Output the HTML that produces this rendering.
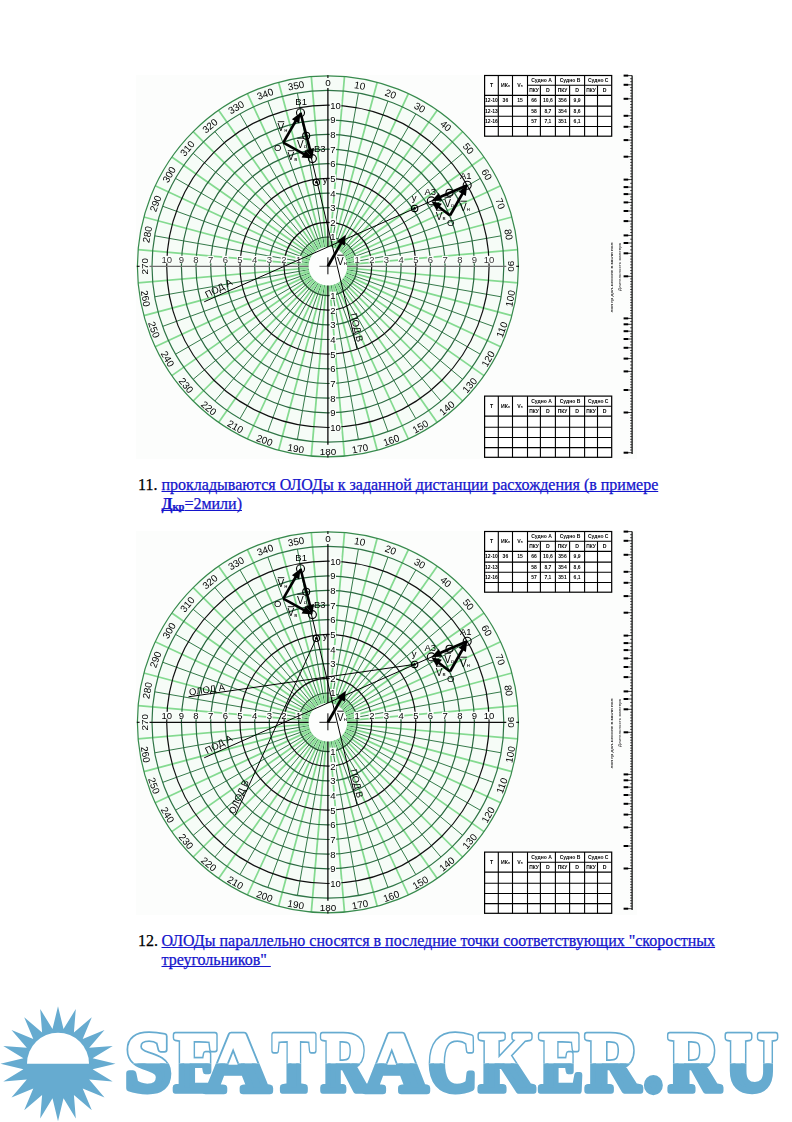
<!DOCTYPE html>
<html><head><meta charset="utf-8"><style>
html,body{margin:0;padding:0;background:#fff;}
body{width:792px;height:1122px;position:relative;overflow:hidden;}
svg{position:absolute;left:0;top:0;}
.ax{font-family:"Liberation Sans",sans-serif;font-size:9.5px;}
.dg{font-family:"Liberation Sans",sans-serif;font-size:9.9px;}
.vl{font-family:"Liberation Sans",sans-serif;font-size:9.5px;}
.tb{font-family:"Liberation Sans",sans-serif;font-weight:bold;}
.p{position:absolute;left:138px;font-family:"Liberation Serif",serif;font-size:16px;line-height:19px;margin:0;color:#000;white-space:nowrap;-webkit-text-stroke:0.25px currentColor;}
.p .n{display:inline-block;width:23.5px;}
.p a{color:#1414cc;text-decoration:underline;text-decoration-skip-ink:none;}
.p .l2{padding-left:23.5px;}
</style></head><body>
<svg width="792" height="1122" viewBox="0 0 792 1122">
<defs><filter id="soft" x="0" y="0" width="1" height="1"><feGaussianBlur stdDeviation="0.28"/></filter></defs>
<g filter="url(#soft)"><rect x="136" y="75" width="501" height="384" fill="#fcfdfc"/>
<circle cx="327.9" cy="266.3" r="190.5" fill="#f6fcf7"/>
<line x1="329.6" y1="247.2" x2="344.5" y2="76.5" stroke="#84da90" stroke-width="1.75"/>
<line x1="331.2" y1="247.4" x2="358.4" y2="93.1" stroke="#357a4a" stroke-width="1.0"/>
<line x1="332.9" y1="247.8" x2="377.2" y2="82.3" stroke="#84da90" stroke-width="1.75"/>
<line x1="334.5" y1="248.3" x2="388.0" y2="101.0" stroke="#357a4a" stroke-width="1.0"/>
<line x1="336.0" y1="248.9" x2="408.4" y2="93.6" stroke="#84da90" stroke-width="1.75"/>
<line x1="337.5" y1="249.7" x2="415.8" y2="114.0" stroke="#357a4a" stroke-width="1.0"/>
<line x1="338.9" y1="250.6" x2="437.2" y2="110.2" stroke="#84da90" stroke-width="1.75"/>
<line x1="340.2" y1="251.6" x2="440.9" y2="131.6" stroke="#357a4a" stroke-width="1.0"/>
<line x1="341.5" y1="252.7" x2="462.6" y2="131.6" stroke="#84da90" stroke-width="1.75"/>
<line x1="342.6" y1="254.0" x2="462.6" y2="153.3" stroke="#357a4a" stroke-width="1.0"/>
<line x1="343.6" y1="255.3" x2="484.0" y2="157.0" stroke="#84da90" stroke-width="1.75"/>
<line x1="344.5" y1="256.7" x2="480.2" y2="178.4" stroke="#357a4a" stroke-width="1.0"/>
<line x1="345.3" y1="258.2" x2="500.6" y2="185.8" stroke="#84da90" stroke-width="1.75"/>
<line x1="345.9" y1="259.7" x2="493.2" y2="206.2" stroke="#357a4a" stroke-width="1.0"/>
<line x1="346.4" y1="261.3" x2="511.9" y2="217.0" stroke="#84da90" stroke-width="1.75"/>
<line x1="346.8" y1="263.0" x2="501.1" y2="235.8" stroke="#357a4a" stroke-width="1.0"/>
<line x1="347.0" y1="264.6" x2="517.7" y2="249.7" stroke="#84da90" stroke-width="1.75"/>
<line x1="347.0" y1="268.0" x2="517.7" y2="282.9" stroke="#84da90" stroke-width="1.75"/>
<line x1="346.8" y1="269.6" x2="501.1" y2="296.8" stroke="#357a4a" stroke-width="1.0"/>
<line x1="346.4" y1="271.3" x2="511.9" y2="315.6" stroke="#84da90" stroke-width="1.75"/>
<line x1="345.9" y1="272.9" x2="493.2" y2="326.4" stroke="#357a4a" stroke-width="1.0"/>
<line x1="345.3" y1="274.4" x2="500.6" y2="346.8" stroke="#84da90" stroke-width="1.75"/>
<line x1="344.5" y1="275.9" x2="480.2" y2="354.2" stroke="#357a4a" stroke-width="1.0"/>
<line x1="343.6" y1="277.3" x2="484.0" y2="375.6" stroke="#84da90" stroke-width="1.75"/>
<line x1="342.6" y1="278.6" x2="462.6" y2="379.3" stroke="#357a4a" stroke-width="1.0"/>
<line x1="341.5" y1="279.9" x2="462.6" y2="401.0" stroke="#84da90" stroke-width="1.75"/>
<line x1="340.2" y1="281.0" x2="440.9" y2="401.0" stroke="#357a4a" stroke-width="1.0"/>
<line x1="338.9" y1="282.0" x2="437.2" y2="422.4" stroke="#84da90" stroke-width="1.75"/>
<line x1="337.5" y1="282.9" x2="415.8" y2="418.6" stroke="#357a4a" stroke-width="1.0"/>
<line x1="336.0" y1="283.7" x2="408.4" y2="439.0" stroke="#84da90" stroke-width="1.75"/>
<line x1="334.5" y1="284.3" x2="388.0" y2="431.6" stroke="#357a4a" stroke-width="1.0"/>
<line x1="332.9" y1="284.8" x2="377.2" y2="450.3" stroke="#84da90" stroke-width="1.75"/>
<line x1="331.2" y1="285.2" x2="358.4" y2="439.5" stroke="#357a4a" stroke-width="1.0"/>
<line x1="329.6" y1="285.4" x2="344.5" y2="456.1" stroke="#84da90" stroke-width="1.75"/>
<line x1="326.2" y1="285.4" x2="311.3" y2="456.1" stroke="#84da90" stroke-width="1.75"/>
<line x1="324.6" y1="285.2" x2="297.4" y2="439.5" stroke="#357a4a" stroke-width="1.0"/>
<line x1="322.9" y1="284.8" x2="278.6" y2="450.3" stroke="#84da90" stroke-width="1.75"/>
<line x1="321.3" y1="284.3" x2="267.8" y2="431.6" stroke="#357a4a" stroke-width="1.0"/>
<line x1="319.8" y1="283.7" x2="247.4" y2="439.0" stroke="#84da90" stroke-width="1.75"/>
<line x1="318.3" y1="282.9" x2="240.0" y2="418.6" stroke="#357a4a" stroke-width="1.0"/>
<line x1="316.9" y1="282.0" x2="218.6" y2="422.4" stroke="#84da90" stroke-width="1.75"/>
<line x1="315.6" y1="281.0" x2="214.9" y2="401.0" stroke="#357a4a" stroke-width="1.0"/>
<line x1="314.3" y1="279.9" x2="193.2" y2="401.0" stroke="#84da90" stroke-width="1.75"/>
<line x1="313.2" y1="278.6" x2="193.2" y2="379.3" stroke="#357a4a" stroke-width="1.0"/>
<line x1="312.2" y1="277.3" x2="171.8" y2="375.6" stroke="#84da90" stroke-width="1.75"/>
<line x1="311.3" y1="275.9" x2="175.6" y2="354.2" stroke="#357a4a" stroke-width="1.0"/>
<line x1="310.5" y1="274.4" x2="155.2" y2="346.8" stroke="#84da90" stroke-width="1.75"/>
<line x1="309.9" y1="272.9" x2="162.6" y2="326.4" stroke="#357a4a" stroke-width="1.0"/>
<line x1="309.4" y1="271.3" x2="143.9" y2="315.6" stroke="#84da90" stroke-width="1.75"/>
<line x1="309.0" y1="269.6" x2="154.7" y2="296.8" stroke="#357a4a" stroke-width="1.0"/>
<line x1="308.8" y1="268.0" x2="138.1" y2="282.9" stroke="#84da90" stroke-width="1.75"/>
<line x1="308.8" y1="264.6" x2="138.1" y2="249.7" stroke="#84da90" stroke-width="1.75"/>
<line x1="309.0" y1="263.0" x2="154.7" y2="235.8" stroke="#357a4a" stroke-width="1.0"/>
<line x1="309.4" y1="261.3" x2="143.9" y2="217.0" stroke="#84da90" stroke-width="1.75"/>
<line x1="309.9" y1="259.7" x2="162.6" y2="206.2" stroke="#357a4a" stroke-width="1.0"/>
<line x1="310.5" y1="258.2" x2="155.2" y2="185.8" stroke="#84da90" stroke-width="1.75"/>
<line x1="311.3" y1="256.7" x2="175.6" y2="178.4" stroke="#357a4a" stroke-width="1.0"/>
<line x1="312.2" y1="255.3" x2="171.8" y2="157.0" stroke="#84da90" stroke-width="1.75"/>
<line x1="313.2" y1="254.0" x2="193.2" y2="153.3" stroke="#357a4a" stroke-width="1.0"/>
<line x1="314.3" y1="252.7" x2="193.2" y2="131.6" stroke="#84da90" stroke-width="1.75"/>
<line x1="315.6" y1="251.6" x2="214.9" y2="131.6" stroke="#357a4a" stroke-width="1.0"/>
<line x1="316.9" y1="250.6" x2="218.6" y2="110.2" stroke="#84da90" stroke-width="1.75"/>
<line x1="318.3" y1="249.7" x2="240.0" y2="114.0" stroke="#357a4a" stroke-width="1.0"/>
<line x1="319.8" y1="248.9" x2="247.4" y2="93.6" stroke="#84da90" stroke-width="1.75"/>
<line x1="321.3" y1="248.3" x2="267.8" y2="101.0" stroke="#357a4a" stroke-width="1.0"/>
<line x1="322.9" y1="247.8" x2="278.6" y2="82.3" stroke="#84da90" stroke-width="1.75"/>
<line x1="324.6" y1="247.4" x2="297.4" y2="93.1" stroke="#357a4a" stroke-width="1.0"/>
<line x1="326.2" y1="247.2" x2="311.3" y2="76.5" stroke="#84da90" stroke-width="1.75"/>
<line x1="328.7" y1="247.1" x2="329.2" y2="237.1" stroke="#8ee09a" stroke-width="0.9"/>
<line x1="330.4" y1="247.3" x2="331.7" y2="237.3" stroke="#8ee09a" stroke-width="0.9"/>
<line x1="332.1" y1="247.6" x2="334.2" y2="237.7" stroke="#8ee09a" stroke-width="0.9"/>
<line x1="333.7" y1="248.0" x2="336.7" y2="238.4" stroke="#8ee09a" stroke-width="0.9"/>
<line x1="335.2" y1="248.6" x2="339.1" y2="239.3" stroke="#8ee09a" stroke-width="0.9"/>
<line x1="336.8" y1="249.3" x2="341.4" y2="240.3" stroke="#8ee09a" stroke-width="0.9"/>
<line x1="338.2" y1="250.1" x2="343.6" y2="241.6" stroke="#8ee09a" stroke-width="0.9"/>
<line x1="339.6" y1="251.1" x2="345.7" y2="243.1" stroke="#8ee09a" stroke-width="0.9"/>
<line x1="340.9" y1="252.1" x2="347.7" y2="244.7" stroke="#8ee09a" stroke-width="0.9"/>
<line x1="342.1" y1="253.3" x2="349.5" y2="246.5" stroke="#8ee09a" stroke-width="0.9"/>
<line x1="343.1" y1="254.6" x2="351.1" y2="248.5" stroke="#8ee09a" stroke-width="0.9"/>
<line x1="344.1" y1="256.0" x2="352.6" y2="250.6" stroke="#8ee09a" stroke-width="0.9"/>
<line x1="344.9" y1="257.4" x2="353.9" y2="252.8" stroke="#8ee09a" stroke-width="0.9"/>
<line x1="345.6" y1="259.0" x2="354.9" y2="255.1" stroke="#8ee09a" stroke-width="0.9"/>
<line x1="346.2" y1="260.5" x2="355.8" y2="257.5" stroke="#8ee09a" stroke-width="0.9"/>
<line x1="346.6" y1="262.1" x2="356.5" y2="260.0" stroke="#8ee09a" stroke-width="0.9"/>
<line x1="346.9" y1="263.8" x2="356.9" y2="262.5" stroke="#8ee09a" stroke-width="0.9"/>
<line x1="347.1" y1="265.5" x2="357.1" y2="265.0" stroke="#8ee09a" stroke-width="0.9"/>
<line x1="347.1" y1="267.1" x2="357.1" y2="267.6" stroke="#8ee09a" stroke-width="0.9"/>
<line x1="346.9" y1="268.8" x2="356.9" y2="270.1" stroke="#8ee09a" stroke-width="0.9"/>
<line x1="346.6" y1="270.5" x2="356.5" y2="272.6" stroke="#8ee09a" stroke-width="0.9"/>
<line x1="346.2" y1="272.1" x2="355.8" y2="275.1" stroke="#8ee09a" stroke-width="0.9"/>
<line x1="345.6" y1="273.6" x2="354.9" y2="277.5" stroke="#8ee09a" stroke-width="0.9"/>
<line x1="344.9" y1="275.2" x2="353.9" y2="279.8" stroke="#8ee09a" stroke-width="0.9"/>
<line x1="344.1" y1="276.6" x2="352.6" y2="282.0" stroke="#8ee09a" stroke-width="0.9"/>
<line x1="343.1" y1="278.0" x2="351.1" y2="284.1" stroke="#8ee09a" stroke-width="0.9"/>
<line x1="342.1" y1="279.3" x2="349.5" y2="286.1" stroke="#8ee09a" stroke-width="0.9"/>
<line x1="340.9" y1="280.5" x2="347.7" y2="287.9" stroke="#8ee09a" stroke-width="0.9"/>
<line x1="339.6" y1="281.5" x2="345.7" y2="289.5" stroke="#8ee09a" stroke-width="0.9"/>
<line x1="338.2" y1="282.5" x2="343.6" y2="291.0" stroke="#8ee09a" stroke-width="0.9"/>
<line x1="336.8" y1="283.3" x2="341.4" y2="292.3" stroke="#8ee09a" stroke-width="0.9"/>
<line x1="335.2" y1="284.0" x2="339.1" y2="293.3" stroke="#8ee09a" stroke-width="0.9"/>
<line x1="333.7" y1="284.6" x2="336.7" y2="294.2" stroke="#8ee09a" stroke-width="0.9"/>
<line x1="332.1" y1="285.0" x2="334.2" y2="294.9" stroke="#8ee09a" stroke-width="0.9"/>
<line x1="330.4" y1="285.3" x2="331.7" y2="295.3" stroke="#8ee09a" stroke-width="0.9"/>
<line x1="328.7" y1="285.5" x2="329.2" y2="295.5" stroke="#8ee09a" stroke-width="0.9"/>
<line x1="327.1" y1="285.5" x2="326.6" y2="295.5" stroke="#8ee09a" stroke-width="0.9"/>
<line x1="325.4" y1="285.3" x2="324.1" y2="295.3" stroke="#8ee09a" stroke-width="0.9"/>
<line x1="323.7" y1="285.0" x2="321.6" y2="294.9" stroke="#8ee09a" stroke-width="0.9"/>
<line x1="322.1" y1="284.6" x2="319.1" y2="294.2" stroke="#8ee09a" stroke-width="0.9"/>
<line x1="320.6" y1="284.0" x2="316.7" y2="293.3" stroke="#8ee09a" stroke-width="0.9"/>
<line x1="319.0" y1="283.3" x2="314.4" y2="292.3" stroke="#8ee09a" stroke-width="0.9"/>
<line x1="317.6" y1="282.5" x2="312.2" y2="291.0" stroke="#8ee09a" stroke-width="0.9"/>
<line x1="316.2" y1="281.5" x2="310.1" y2="289.5" stroke="#8ee09a" stroke-width="0.9"/>
<line x1="314.9" y1="280.5" x2="308.1" y2="287.9" stroke="#8ee09a" stroke-width="0.9"/>
<line x1="313.7" y1="279.3" x2="306.3" y2="286.1" stroke="#8ee09a" stroke-width="0.9"/>
<line x1="312.7" y1="278.0" x2="304.7" y2="284.1" stroke="#8ee09a" stroke-width="0.9"/>
<line x1="311.7" y1="276.6" x2="303.2" y2="282.0" stroke="#8ee09a" stroke-width="0.9"/>
<line x1="310.9" y1="275.2" x2="301.9" y2="279.8" stroke="#8ee09a" stroke-width="0.9"/>
<line x1="310.2" y1="273.6" x2="300.9" y2="277.5" stroke="#8ee09a" stroke-width="0.9"/>
<line x1="309.6" y1="272.1" x2="300.0" y2="275.1" stroke="#8ee09a" stroke-width="0.9"/>
<line x1="309.2" y1="270.5" x2="299.3" y2="272.6" stroke="#8ee09a" stroke-width="0.9"/>
<line x1="308.9" y1="268.8" x2="298.9" y2="270.1" stroke="#8ee09a" stroke-width="0.9"/>
<line x1="308.7" y1="267.1" x2="298.7" y2="267.6" stroke="#8ee09a" stroke-width="0.9"/>
<line x1="308.7" y1="265.5" x2="298.7" y2="265.0" stroke="#8ee09a" stroke-width="0.9"/>
<line x1="308.9" y1="263.8" x2="298.9" y2="262.5" stroke="#8ee09a" stroke-width="0.9"/>
<line x1="309.2" y1="262.1" x2="299.3" y2="260.0" stroke="#8ee09a" stroke-width="0.9"/>
<line x1="309.6" y1="260.5" x2="300.0" y2="257.5" stroke="#8ee09a" stroke-width="0.9"/>
<line x1="310.2" y1="259.0" x2="300.9" y2="255.1" stroke="#8ee09a" stroke-width="0.9"/>
<line x1="310.9" y1="257.4" x2="301.9" y2="252.8" stroke="#8ee09a" stroke-width="0.9"/>
<line x1="311.7" y1="256.0" x2="303.2" y2="250.6" stroke="#8ee09a" stroke-width="0.9"/>
<line x1="312.7" y1="254.6" x2="304.7" y2="248.5" stroke="#8ee09a" stroke-width="0.9"/>
<line x1="313.7" y1="253.3" x2="306.3" y2="246.5" stroke="#8ee09a" stroke-width="0.9"/>
<line x1="314.9" y1="252.1" x2="308.1" y2="244.7" stroke="#8ee09a" stroke-width="0.9"/>
<line x1="316.2" y1="251.1" x2="310.1" y2="243.1" stroke="#8ee09a" stroke-width="0.9"/>
<line x1="317.6" y1="250.1" x2="312.2" y2="241.6" stroke="#8ee09a" stroke-width="0.9"/>
<line x1="319.0" y1="249.3" x2="314.4" y2="240.3" stroke="#8ee09a" stroke-width="0.9"/>
<line x1="320.6" y1="248.6" x2="316.7" y2="239.3" stroke="#8ee09a" stroke-width="0.9"/>
<line x1="322.1" y1="248.0" x2="319.1" y2="238.4" stroke="#8ee09a" stroke-width="0.9"/>
<line x1="323.7" y1="247.6" x2="321.6" y2="237.7" stroke="#8ee09a" stroke-width="0.9"/>
<line x1="325.4" y1="247.3" x2="324.1" y2="237.3" stroke="#8ee09a" stroke-width="0.9"/>
<line x1="327.1" y1="247.1" x2="326.6" y2="237.1" stroke="#8ee09a" stroke-width="0.9"/>
<circle cx="327.9" cy="266.3" r="29.3" fill="none" stroke="#244f30" stroke-width="1.2"/>
<circle cx="327.9" cy="266.3" r="43.9" fill="none" stroke="#111" stroke-width="1.2"/>
<circle cx="327.9" cy="266.3" r="58.6" fill="none" stroke="#29673f" stroke-width="1.2"/>
<circle cx="327.9" cy="266.3" r="73.2" fill="none" stroke="#29673f" stroke-width="1.2"/>
<circle cx="327.9" cy="266.3" r="87.9" fill="none" stroke="#111" stroke-width="1.2"/>
<circle cx="327.9" cy="266.3" r="102.6" fill="none" stroke="#29673f" stroke-width="1.2"/>
<circle cx="327.9" cy="266.3" r="117.2" fill="none" stroke="#29673f" stroke-width="1.2"/>
<circle cx="327.9" cy="266.3" r="131.9" fill="none" stroke="#29673f" stroke-width="1.2"/>
<circle cx="327.9" cy="266.3" r="146.5" fill="none" stroke="#29673f" stroke-width="1.2"/>
<circle cx="327.9" cy="266.3" r="161.2" fill="none" stroke="#111" stroke-width="1.2"/>
<circle cx="327.9" cy="266.3" r="175.9" fill="none" stroke="#2f7546" stroke-width="1.2"/>
<circle cx="327.9" cy="266.3" r="190.5" fill="none" stroke="#378a4d" stroke-width="1.2"/>
<line x1="327.9" y1="87.9" x2="327.9" y2="444.7" stroke="#000" stroke-width="1.25"/>
<line x1="149.5" y1="266.3" x2="506.3" y2="266.3" stroke="#6e6e6e" stroke-width="1.25"/>
<line x1="327.9" y1="78.0" x2="327.9" y2="75.2" stroke="#000" stroke-width="1.1"/>
<line x1="327.9" y1="454.6" x2="327.9" y2="457.4" stroke="#000" stroke-width="1.1"/>
<line x1="139.6" y1="266.3" x2="136.8" y2="266.3" stroke="#000" stroke-width="1.1"/>
<line x1="516.2" y1="266.3" x2="519.0" y2="266.3" stroke="#000" stroke-width="1.1"/>
<circle cx="327.9" cy="266.3" r="19.2" fill="#fdfefd"/>
<line x1="319.4" y1="266.3" x2="336.4" y2="266.3" stroke="#6e6e6e" stroke-width="1"/>
<line x1="327.9" y1="257.3" x2="327.9" y2="274.3" stroke="#000" stroke-width="1"/>
<rect x="329.7" y="233.0" width="6.3" height="8" fill="#fbfefb"/>
<text x="330.2" y="240.4" class="ax">1</text>
<rect x="329.7" y="291.6" width="6.3" height="8" fill="#fbfefb"/>
<text x="330.2" y="299.0" class="ax">1</text>
<rect x="295.5" y="255.8" width="6.3" height="7.5" fill="#fbfefb"/>
<text x="298.6" y="263.3" class="ax" text-anchor="middle" fill="#333">1</text>
<rect x="354.0" y="255.8" width="6.3" height="7.5" fill="#fbfefb"/>
<text x="357.2" y="263.3" class="ax" text-anchor="middle" fill="#333">1</text>
<rect x="329.7" y="218.4" width="6.3" height="8" fill="#fbfefb"/>
<text x="330.2" y="225.8" class="ax">2</text>
<rect x="329.7" y="306.2" width="6.3" height="8" fill="#fbfefb"/>
<text x="330.2" y="313.6" class="ax">2</text>
<rect x="280.8" y="255.8" width="6.3" height="7.5" fill="#fbfefb"/>
<text x="284.0" y="263.3" class="ax" text-anchor="middle" fill="#333">2</text>
<rect x="368.7" y="255.8" width="6.3" height="7.5" fill="#fbfefb"/>
<text x="371.8" y="263.3" class="ax" text-anchor="middle" fill="#333">2</text>
<rect x="329.7" y="203.7" width="6.3" height="8" fill="#fbfefb"/>
<text x="330.2" y="211.1" class="ax">3</text>
<rect x="329.7" y="320.9" width="6.3" height="8" fill="#fbfefb"/>
<text x="330.2" y="328.3" class="ax">3</text>
<rect x="266.2" y="255.8" width="6.3" height="7.5" fill="#fbfefb"/>
<text x="269.3" y="263.3" class="ax" text-anchor="middle" fill="#333">3</text>
<rect x="383.3" y="255.8" width="6.3" height="7.5" fill="#fbfefb"/>
<text x="386.5" y="263.3" class="ax" text-anchor="middle" fill="#333">3</text>
<rect x="329.7" y="189.1" width="6.3" height="8" fill="#fbfefb"/>
<text x="330.2" y="196.5" class="ax">4</text>
<rect x="329.7" y="335.5" width="6.3" height="8" fill="#fbfefb"/>
<text x="330.2" y="342.9" class="ax">4</text>
<rect x="251.5" y="255.8" width="6.3" height="7.5" fill="#fbfefb"/>
<text x="254.7" y="263.3" class="ax" text-anchor="middle" fill="#333">4</text>
<rect x="398.0" y="255.8" width="6.3" height="7.5" fill="#fbfefb"/>
<text x="401.1" y="263.3" class="ax" text-anchor="middle" fill="#333">4</text>
<rect x="329.7" y="174.4" width="6.3" height="8" fill="#fbfefb"/>
<text x="330.2" y="181.8" class="ax">5</text>
<rect x="329.7" y="350.2" width="6.3" height="8" fill="#fbfefb"/>
<text x="330.2" y="357.6" class="ax">5</text>
<rect x="236.9" y="255.8" width="6.3" height="7.5" fill="#fbfefb"/>
<text x="240.0" y="263.3" class="ax" text-anchor="middle" fill="#333">5</text>
<rect x="412.7" y="255.8" width="6.3" height="7.5" fill="#fbfefb"/>
<text x="415.8" y="263.3" class="ax" text-anchor="middle" fill="#333">5</text>
<rect x="329.7" y="159.7" width="6.3" height="8" fill="#fbfefb"/>
<text x="330.2" y="167.1" class="ax">6</text>
<rect x="329.7" y="364.9" width="6.3" height="8" fill="#fbfefb"/>
<text x="330.2" y="372.3" class="ax">6</text>
<rect x="222.2" y="255.8" width="6.3" height="7.5" fill="#fbfefb"/>
<text x="225.3" y="263.3" class="ax" text-anchor="middle" fill="#333">6</text>
<rect x="427.3" y="255.8" width="6.3" height="7.5" fill="#fbfefb"/>
<text x="430.5" y="263.3" class="ax" text-anchor="middle" fill="#333">6</text>
<rect x="329.7" y="145.1" width="6.3" height="8" fill="#fbfefb"/>
<text x="330.2" y="152.5" class="ax">7</text>
<rect x="329.7" y="379.5" width="6.3" height="8" fill="#fbfefb"/>
<text x="330.2" y="386.9" class="ax">7</text>
<rect x="207.5" y="255.8" width="6.3" height="7.5" fill="#fbfefb"/>
<text x="210.7" y="263.3" class="ax" text-anchor="middle" fill="#333">7</text>
<rect x="442.0" y="255.8" width="6.3" height="7.5" fill="#fbfefb"/>
<text x="445.1" y="263.3" class="ax" text-anchor="middle" fill="#333">7</text>
<rect x="329.7" y="130.4" width="6.3" height="8" fill="#fbfefb"/>
<text x="330.2" y="137.8" class="ax">8</text>
<rect x="329.7" y="394.2" width="6.3" height="8" fill="#fbfefb"/>
<text x="330.2" y="401.6" class="ax">8</text>
<rect x="192.9" y="255.8" width="6.3" height="7.5" fill="#fbfefb"/>
<text x="196.0" y="263.3" class="ax" text-anchor="middle" fill="#333">8</text>
<rect x="456.6" y="255.8" width="6.3" height="7.5" fill="#fbfefb"/>
<text x="459.8" y="263.3" class="ax" text-anchor="middle" fill="#333">8</text>
<rect x="329.7" y="115.8" width="6.3" height="8" fill="#fbfefb"/>
<text x="330.2" y="123.2" class="ax">9</text>
<rect x="329.7" y="408.8" width="6.3" height="8" fill="#fbfefb"/>
<text x="330.2" y="416.2" class="ax">9</text>
<rect x="178.2" y="255.8" width="6.3" height="7.5" fill="#fbfefb"/>
<text x="181.4" y="263.3" class="ax" text-anchor="middle" fill="#333">9</text>
<rect x="471.3" y="255.8" width="6.3" height="7.5" fill="#fbfefb"/>
<text x="474.4" y="263.3" class="ax" text-anchor="middle" fill="#333">9</text>
<rect x="329.7" y="101.1" width="11.6" height="8" fill="#fbfefb"/>
<text x="330.2" y="108.5" class="ax">10</text>
<rect x="329.7" y="423.5" width="11.6" height="8" fill="#fbfefb"/>
<text x="330.2" y="430.9" class="ax">10</text>
<rect x="160.9" y="255.8" width="11.6" height="7.5" fill="#fbfefb"/>
<text x="166.7" y="263.3" class="ax" text-anchor="middle" fill="#333">10</text>
<rect x="483.3" y="255.8" width="11.6" height="7.5" fill="#fbfefb"/>
<text x="489.1" y="263.3" class="ax" text-anchor="middle" fill="#333">10</text>
<text transform="translate(327.9,82.7) rotate(0)" y="3.6" class="dg" text-anchor="middle">0</text>
<text transform="translate(359.8,85.5) rotate(10)" y="3.6" class="dg" text-anchor="middle">10</text>
<text transform="translate(390.7,93.8) rotate(20)" y="3.6" class="dg" text-anchor="middle">20</text>
<text transform="translate(419.7,107.3) rotate(30)" y="3.6" class="dg" text-anchor="middle">30</text>
<text transform="translate(445.9,125.7) rotate(40)" y="3.6" class="dg" text-anchor="middle">40</text>
<text transform="translate(468.5,148.3) rotate(50)" y="3.6" class="dg" text-anchor="middle">50</text>
<text transform="translate(486.9,174.5) rotate(60)" y="3.6" class="dg" text-anchor="middle">60</text>
<text transform="translate(500.4,203.5) rotate(70)" y="3.6" class="dg" text-anchor="middle">70</text>
<text transform="translate(508.7,234.4) rotate(80)" y="3.6" class="dg" text-anchor="middle">80</text>
<text transform="translate(511.5,266.3) rotate(90)" y="3.6" class="dg" text-anchor="middle">90</text>
<text transform="translate(510.1,298.4) rotate(-80)" y="3.6" class="dg" text-anchor="middle">100</text>
<text transform="translate(501.7,329.6) rotate(-70)" y="3.6" class="dg" text-anchor="middle">110</text>
<text transform="translate(488.1,358.8) rotate(-60)" y="3.6" class="dg" text-anchor="middle">120</text>
<text transform="translate(469.6,385.2) rotate(-50)" y="3.6" class="dg" text-anchor="middle">130</text>
<text transform="translate(446.8,408.0) rotate(-40)" y="3.6" class="dg" text-anchor="middle">140</text>
<text transform="translate(420.4,426.5) rotate(-30)" y="3.6" class="dg" text-anchor="middle">150</text>
<text transform="translate(391.2,440.1) rotate(-20)" y="3.6" class="dg" text-anchor="middle">160</text>
<text transform="translate(360.0,448.5) rotate(-10)" y="3.6" class="dg" text-anchor="middle">170</text>
<text transform="translate(327.9,451.3) rotate(0)" y="3.6" class="dg" text-anchor="middle">180</text>
<text transform="translate(295.8,448.5) rotate(10)" y="3.6" class="dg" text-anchor="middle">190</text>
<text transform="translate(264.6,440.1) rotate(20)" y="3.6" class="dg" text-anchor="middle">200</text>
<text transform="translate(235.4,426.5) rotate(30)" y="3.6" class="dg" text-anchor="middle">210</text>
<text transform="translate(209.0,408.0) rotate(40)" y="3.6" class="dg" text-anchor="middle">220</text>
<text transform="translate(186.2,385.2) rotate(50)" y="3.6" class="dg" text-anchor="middle">230</text>
<text transform="translate(167.7,358.8) rotate(60)" y="3.6" class="dg" text-anchor="middle">240</text>
<text transform="translate(154.1,329.6) rotate(70)" y="3.6" class="dg" text-anchor="middle">250</text>
<text transform="translate(145.7,298.4) rotate(80)" y="3.6" class="dg" text-anchor="middle">260</text>
<text transform="translate(144.3,266.3) rotate(270)" y="3.6" class="dg" text-anchor="middle">270</text>
<text transform="translate(147.1,234.4) rotate(280)" y="3.6" class="dg" text-anchor="middle">280</text>
<text transform="translate(155.4,203.5) rotate(290)" y="3.6" class="dg" text-anchor="middle">290</text>
<text transform="translate(168.9,174.5) rotate(300)" y="3.6" class="dg" text-anchor="middle">300</text>
<text transform="translate(187.3,148.3) rotate(310)" y="3.6" class="dg" text-anchor="middle">310</text>
<text transform="translate(209.9,125.7) rotate(320)" y="3.6" class="dg" text-anchor="middle">320</text>
<text transform="translate(236.1,107.3) rotate(330)" y="3.6" class="dg" text-anchor="middle">330</text>
<text transform="translate(265.1,93.8) rotate(340)" y="3.6" class="dg" text-anchor="middle">340</text>
<text transform="translate(296.0,85.5) rotate(350)" y="3.6" class="dg" text-anchor="middle">350</text>
<line x1="300.5" y1="112.7" x2="357.0" y2="348.8" stroke="#000" stroke-width="1"/>
<line x1="467.2" y1="185.2" x2="204.2" y2="301.8" stroke="#000" stroke-width="1"/>
<circle cx="300.5" cy="112.7" r="4" fill="none" stroke="#000" stroke-width="1.1"/>
<circle cx="306.2" cy="135.7" r="3.5" fill="none" stroke="#000" stroke-width="1.1"/>
<circle cx="312.4" cy="158.6" r="4" fill="none" stroke="#000" stroke-width="1.1"/>
<circle cx="467.2" cy="185.2" r="4" fill="none" stroke="#000" stroke-width="1.1"/>
<circle cx="449.5" cy="192.8" r="3.5" fill="none" stroke="#000" stroke-width="1.1"/>
<circle cx="431.3" cy="200.9" r="4" fill="none" stroke="#000" stroke-width="1.1"/>
<circle cx="414.6" cy="208.4" r="3.2" fill="none" stroke="#000" stroke-width="1.1"/>
<circle cx="316.3" cy="182.3" r="3.2" fill="none" stroke="#000" stroke-width="1.1"/>
<circle cx="414.6" cy="208.4" r="1.3" fill="#000"/>
<circle cx="316.3" cy="182.3" r="1.3" fill="#000"/>
<line x1="283.3" y1="142.7" x2="296.0" y2="120.5" stroke="#000" stroke-width="2.6"/><polygon points="300.5,112.7 299.2,123.5 291.9,119.3" fill="#000"/>
<line x1="300.5" y1="112.7" x2="310.1" y2="149.9" stroke="#000" stroke-width="2.6"/><polygon points="312.4,158.6 305.8,150.0 314.0,147.9" fill="#000"/>
<line x1="283.3" y1="142.7" x2="304.5" y2="154.3" stroke="#000" stroke-width="2.6"/><polygon points="312.4,158.6 301.6,157.5 305.6,150.1" fill="#000"/>
<line x1="450.0" y1="215.5" x2="462.8" y2="193.0" stroke="#000" stroke-width="2.6"/><polygon points="467.2,185.2 465.9,196.0 458.6,191.8" fill="#000"/>
<line x1="467.2" y1="185.2" x2="439.5" y2="197.3" stroke="#000" stroke-width="2.6"/><polygon points="431.3,200.9 438.8,193.0 442.1,200.7" fill="#000"/>
<line x1="450.0" y1="215.5" x2="438.4" y2="206.4" stroke="#000" stroke-width="2.6"/><polygon points="431.3,200.9 441.8,203.7 436.6,210.4" fill="#000"/>
<line x1="327.9" y1="266.3" x2="341.4" y2="242.6" stroke="#000" stroke-width="2.8"/><polygon points="345.8,234.8 344.8,245.7 336.9,241.3" fill="#000"/>
<text x="295.3" y="104.7" class="vl">В1</text>
<text x="274" y="151" class="vl">О</text>
<text x="314" y="152" class="vl">В3</text>
<text x="322.8" y="183.2" class="vl">у</text>
<text x="277.5" y="131.0" class="vl" style="font-size:10.0px">V<tspan style="font-size:5.8px" dy="0.8">н</tspan></text><line x1="277.8" y1="121.7" x2="284.3" y2="121.7" stroke="#000" stroke-width="0.9"/>
<text x="297.0" y="147.5" class="vl" style="font-size:10.0px">V<tspan style="font-size:5.8px" dy="0.8">о</tspan></text><line x1="297.3" y1="138.2" x2="303.8" y2="138.2" stroke="#000" stroke-width="0.9"/>
<text x="287.5" y="160.0" class="vl" style="font-size:10.0px">V<tspan style="font-size:5.8px" dy="0.8">в</tspan></text><line x1="287.8" y1="150.7" x2="294.3" y2="150.7" stroke="#000" stroke-width="0.9"/>
<text x="460" y="179" class="vl">А1</text>
<text x="424.5" y="194.7" class="vl">А3</text>
<text x="411.8" y="201" class="vl">у</text>
<text x="447" y="225.5" class="vl">О</text>
<text x="444.2" y="206.5" class="vl" style="font-size:10.0px">V<tspan style="font-size:5.8px" dy="0.8">о</tspan></text><line x1="444.5" y1="197.2" x2="451.0" y2="197.2" stroke="#000" stroke-width="0.9"/>
<text x="460.0" y="210.5" class="vl" style="font-size:10.0px">V<tspan style="font-size:5.8px" dy="0.8">н</tspan></text><line x1="460.3" y1="201.2" x2="466.8" y2="201.2" stroke="#000" stroke-width="0.9"/>
<text x="435.8" y="219.5" class="vl" style="font-size:10.0px">V<tspan style="font-size:5.8px" dy="0.8">в</tspan></text><line x1="436.1" y1="210.2" x2="442.6" y2="210.2" stroke="#000" stroke-width="0.9"/>
<text x="337.0" y="264.5" class="vl" style="font-size:10.0px">V<tspan style="font-size:5.8px" dy="0.8">н</tspan></text><line x1="337.3" y1="255.2" x2="343.8" y2="255.2" stroke="#000" stroke-width="0.9"/>
<text transform="translate(218.8,288.6) rotate(-28)" y="3" class="vl" text-anchor="middle">ПОД А</text>
<text transform="translate(356.5,327.5) rotate(76.5)" y="3" class="vl" text-anchor="middle">ПОД В</text>
<rect x="484.6" y="75.5" width="127.1" height="60.7" fill="#fff" stroke="#000" stroke-width="1.2"/>
<line x1="498.3" y1="75.5" x2="498.3" y2="136.2" stroke="#000" stroke-width="1.1"/>
<line x1="512.5" y1="75.5" x2="512.5" y2="136.2" stroke="#000" stroke-width="1.1"/>
<line x1="527.5" y1="75.5" x2="527.5" y2="136.2" stroke="#000" stroke-width="1.1"/>
<line x1="540.4" y1="85.3" x2="540.4" y2="136.2" stroke="#000" stroke-width="1.1"/>
<line x1="555.4" y1="75.5" x2="555.4" y2="136.2" stroke="#000" stroke-width="1.1"/>
<line x1="569.6" y1="85.3" x2="569.6" y2="136.2" stroke="#000" stroke-width="1.1"/>
<line x1="584.6" y1="75.5" x2="584.6" y2="136.2" stroke="#000" stroke-width="1.1"/>
<line x1="597.5" y1="85.3" x2="597.5" y2="136.2" stroke="#000" stroke-width="1.1"/>
<line x1="527.5" y1="85.3" x2="611.7" y2="85.3" stroke="#000" stroke-width="1.1"/>
<line x1="484.6" y1="95.4" x2="611.7" y2="95.4" stroke="#000" stroke-width="1.1"/>
<line x1="484.6" y1="106.1" x2="611.7" y2="106.1" stroke="#000" stroke-width="1.1"/>
<line x1="484.6" y1="116.2" x2="611.7" y2="116.2" stroke="#000" stroke-width="1.1"/>
<line x1="484.6" y1="126.5" x2="611.7" y2="126.5" stroke="#000" stroke-width="1.1"/>
<text x="491.5" y="87.0" font-size="5.2" text-anchor="middle" class="tb">Т</text>
<text x="505.4" y="87.0" font-size="5.2" text-anchor="middle" class="tb">ИК<tspan font-size="3">н</tspan></text>
<text x="520.0" y="87.0" font-size="5.2" text-anchor="middle" class="tb">V<tspan font-size="3">н</tspan></text>
<text x="541.5" y="82.0" font-size="5.0" text-anchor="middle" class="tb">Судно А</text>
<text x="570.0" y="82.0" font-size="5.0" text-anchor="middle" class="tb">Судно В</text>
<text x="598.2" y="82.0" font-size="5.0" text-anchor="middle" class="tb">Судно С</text>
<text x="534.0" y="91.9" font-size="4.9" text-anchor="middle" class="tb">ПКУ</text>
<text x="547.9" y="91.9" font-size="5.2" text-anchor="middle" class="tb">D</text>
<text x="562.5" y="91.9" font-size="4.9" text-anchor="middle" class="tb">ПКУ</text>
<text x="577.1" y="91.9" font-size="5.2" text-anchor="middle" class="tb">D</text>
<text x="591.0" y="91.9" font-size="4.9" text-anchor="middle" class="tb">ПКУ</text>
<text x="604.6" y="91.9" font-size="5.2" text-anchor="middle" class="tb">D</text>
<text x="491.5" y="102.3" font-size="5.0" text-anchor="middle" class="tb">12-10</text>
<text x="505.4" y="102.3" font-size="5.0" text-anchor="middle" class="tb">36</text>
<text x="520.0" y="102.3" font-size="5.0" text-anchor="middle" class="tb">15</text>
<text x="534.0" y="102.3" font-size="5.0" text-anchor="middle" class="tb">66</text>
<text x="547.9" y="102.3" font-size="5.0" text-anchor="middle" class="tb">10,6</text>
<text x="562.5" y="102.3" font-size="5.0" text-anchor="middle" class="tb">356</text>
<text x="577.1" y="102.3" font-size="5.0" text-anchor="middle" class="tb">9,9</text>
<text x="491.5" y="112.8" font-size="5.0" text-anchor="middle" class="tb">12-13</text>
<text x="534.0" y="112.8" font-size="5.0" text-anchor="middle" class="tb">58</text>
<text x="547.9" y="112.8" font-size="5.0" text-anchor="middle" class="tb">8,7</text>
<text x="562.5" y="112.8" font-size="5.0" text-anchor="middle" class="tb">354</text>
<text x="577.1" y="112.8" font-size="5.0" text-anchor="middle" class="tb">8,6</text>
<text x="491.5" y="122.9" font-size="5.0" text-anchor="middle" class="tb">12-16</text>
<text x="534.0" y="122.9" font-size="5.0" text-anchor="middle" class="tb">57</text>
<text x="547.9" y="122.9" font-size="5.0" text-anchor="middle" class="tb">7,1</text>
<text x="562.5" y="122.9" font-size="5.0" text-anchor="middle" class="tb">351</text>
<text x="577.1" y="122.9" font-size="5.0" text-anchor="middle" class="tb">6,1</text>
<rect x="484.6" y="396.1" width="127.1" height="61.2" fill="#fff" stroke="#000" stroke-width="1.2"/>
<line x1="498.3" y1="396.1" x2="498.3" y2="457.3" stroke="#000" stroke-width="1.1"/>
<line x1="512.5" y1="396.1" x2="512.5" y2="457.3" stroke="#000" stroke-width="1.1"/>
<line x1="527.5" y1="396.1" x2="527.5" y2="457.3" stroke="#000" stroke-width="1.1"/>
<line x1="540.4" y1="406.2" x2="540.4" y2="457.3" stroke="#000" stroke-width="1.1"/>
<line x1="555.4" y1="396.1" x2="555.4" y2="457.3" stroke="#000" stroke-width="1.1"/>
<line x1="569.6" y1="406.2" x2="569.6" y2="457.3" stroke="#000" stroke-width="1.1"/>
<line x1="584.6" y1="396.1" x2="584.6" y2="457.3" stroke="#000" stroke-width="1.1"/>
<line x1="597.5" y1="406.2" x2="597.5" y2="457.3" stroke="#000" stroke-width="1.1"/>
<line x1="527.5" y1="406.2" x2="611.7" y2="406.2" stroke="#000" stroke-width="1.1"/>
<line x1="484.6" y1="416.1" x2="611.7" y2="416.1" stroke="#000" stroke-width="1.1"/>
<line x1="484.6" y1="427.2" x2="611.7" y2="427.2" stroke="#000" stroke-width="1.1"/>
<line x1="484.6" y1="437.5" x2="611.7" y2="437.5" stroke="#000" stroke-width="1.1"/>
<line x1="484.6" y1="447.6" x2="611.7" y2="447.6" stroke="#000" stroke-width="1.1"/>
<text x="491.5" y="407.7" font-size="5.2" text-anchor="middle" class="tb">Т</text>
<text x="505.4" y="407.7" font-size="5.2" text-anchor="middle" class="tb">ИК<tspan font-size="3">н</tspan></text>
<text x="520.0" y="407.7" font-size="5.2" text-anchor="middle" class="tb">V<tspan font-size="3">н</tspan></text>
<text x="541.5" y="402.8" font-size="5.0" text-anchor="middle" class="tb">Судно А</text>
<text x="570.0" y="402.8" font-size="5.0" text-anchor="middle" class="tb">Судно В</text>
<text x="598.2" y="402.8" font-size="5.0" text-anchor="middle" class="tb">Судно С</text>
<text x="534.0" y="412.8" font-size="4.9" text-anchor="middle" class="tb">ПКУ</text>
<text x="547.9" y="412.8" font-size="5.2" text-anchor="middle" class="tb">D</text>
<text x="562.5" y="412.8" font-size="4.9" text-anchor="middle" class="tb">ПКУ</text>
<text x="577.1" y="412.8" font-size="5.2" text-anchor="middle" class="tb">D</text>
<text x="591.0" y="412.8" font-size="4.9" text-anchor="middle" class="tb">ПКУ</text>
<text x="604.6" y="412.8" font-size="5.2" text-anchor="middle" class="tb">D</text>
<line x1="632.1" y1="75.5" x2="632.1" y2="454.0" stroke="#000" stroke-width="1.2"/>
<rect x="623.6" y="74.6" width="4.6" height="2" fill="#000"/>
<line x1="628" y1="75.6" x2="632.1" y2="75.6" stroke="#000" stroke-width="0.8"/>
<rect x="623.6" y="83.8" width="4.6" height="2" fill="#000"/>
<line x1="628" y1="84.8" x2="632.1" y2="84.8" stroke="#000" stroke-width="0.8"/>
<rect x="623.6" y="97.8" width="4.6" height="2" fill="#000"/>
<line x1="628" y1="98.8" x2="632.1" y2="98.8" stroke="#000" stroke-width="0.8"/>
<rect x="623.6" y="114.8" width="4.6" height="2" fill="#000"/>
<line x1="628" y1="115.8" x2="632.1" y2="115.8" stroke="#000" stroke-width="0.8"/>
<rect x="623.6" y="125.8" width="4.6" height="2" fill="#000"/>
<line x1="628" y1="126.8" x2="632.1" y2="126.8" stroke="#000" stroke-width="0.8"/>
<rect x="623.6" y="139.1" width="4.6" height="2" fill="#000"/>
<line x1="628" y1="140.1" x2="632.1" y2="140.1" stroke="#000" stroke-width="0.8"/>
<rect x="623.6" y="155.7" width="4.6" height="2" fill="#000"/>
<line x1="628" y1="156.7" x2="632.1" y2="156.7" stroke="#000" stroke-width="0.8"/>
<rect x="623.6" y="178.6" width="4.6" height="2" fill="#000"/>
<line x1="628" y1="179.6" x2="632.1" y2="179.6" stroke="#000" stroke-width="0.8"/>
<rect x="623.6" y="186.1" width="4.6" height="2" fill="#000"/>
<line x1="628" y1="187.1" x2="632.1" y2="187.1" stroke="#000" stroke-width="0.8"/>
<rect x="623.6" y="193.1" width="4.6" height="2" fill="#000"/>
<line x1="628" y1="194.1" x2="632.1" y2="194.1" stroke="#000" stroke-width="0.8"/>
<rect x="623.6" y="201.4" width="4.6" height="2" fill="#000"/>
<line x1="628" y1="202.4" x2="632.1" y2="202.4" stroke="#000" stroke-width="0.8"/>
<rect x="623.6" y="210.0" width="4.6" height="2" fill="#000"/>
<line x1="628" y1="211.0" x2="632.1" y2="211.0" stroke="#000" stroke-width="0.8"/>
<rect x="623.6" y="220.1" width="4.6" height="2" fill="#000"/>
<line x1="628" y1="221.1" x2="632.1" y2="221.1" stroke="#000" stroke-width="0.8"/>
<rect x="623.6" y="234.4" width="4.6" height="2" fill="#000"/>
<line x1="628" y1="235.4" x2="632.1" y2="235.4" stroke="#000" stroke-width="0.8"/>
<rect x="623.6" y="242.0" width="4.6" height="2" fill="#000"/>
<line x1="628" y1="243.0" x2="632.1" y2="243.0" stroke="#000" stroke-width="0.8"/>
<rect x="623.6" y="252.3" width="4.6" height="2" fill="#000"/>
<line x1="628" y1="253.3" x2="632.1" y2="253.3" stroke="#000" stroke-width="0.8"/>
<rect x="623.6" y="275.3" width="4.6" height="2" fill="#000"/>
<line x1="628" y1="276.3" x2="632.1" y2="276.3" stroke="#000" stroke-width="0.8"/>
<rect x="623.6" y="317.4" width="4.6" height="2" fill="#000"/>
<line x1="628" y1="318.4" x2="632.1" y2="318.4" stroke="#000" stroke-width="0.8"/>
<rect x="623.6" y="323.3" width="4.6" height="2" fill="#000"/>
<line x1="628" y1="324.3" x2="632.1" y2="324.3" stroke="#000" stroke-width="0.8"/>
<rect x="623.6" y="330.2" width="4.6" height="2" fill="#000"/>
<line x1="628" y1="331.2" x2="632.1" y2="331.2" stroke="#000" stroke-width="0.8"/>
<rect x="623.6" y="338.0" width="4.6" height="2" fill="#000"/>
<line x1="628" y1="339.0" x2="632.1" y2="339.0" stroke="#000" stroke-width="0.8"/>
<rect x="623.6" y="346.8" width="4.6" height="2" fill="#000"/>
<line x1="628" y1="347.8" x2="632.1" y2="347.8" stroke="#000" stroke-width="0.8"/>
<rect x="623.6" y="357.6" width="4.6" height="2" fill="#000"/>
<line x1="628" y1="358.6" x2="632.1" y2="358.6" stroke="#000" stroke-width="0.8"/>
<rect x="623.6" y="370.4" width="4.6" height="2" fill="#000"/>
<line x1="628" y1="371.4" x2="632.1" y2="371.4" stroke="#000" stroke-width="0.8"/>
<rect x="623.6" y="389.0" width="4.6" height="2" fill="#000"/>
<line x1="628" y1="390.0" x2="632.1" y2="390.0" stroke="#000" stroke-width="0.8"/>
<rect x="623.6" y="411.5" width="4.6" height="2" fill="#000"/>
<line x1="628" y1="412.5" x2="632.1" y2="412.5" stroke="#000" stroke-width="0.8"/>
<rect x="623.6" y="451.7" width="4.6" height="2" fill="#000"/>
<line x1="628" y1="452.7" x2="632.1" y2="452.7" stroke="#000" stroke-width="0.8"/>
<line x1="630.1" y1="78.7" x2="632.1" y2="78.7" stroke="#000" stroke-width="0.7"/>
<line x1="630.1" y1="81.7" x2="632.1" y2="81.7" stroke="#000" stroke-width="0.7"/>
<line x1="630.1" y1="87.6" x2="632.1" y2="87.6" stroke="#000" stroke-width="0.7"/>
<line x1="630.1" y1="90.4" x2="632.1" y2="90.4" stroke="#000" stroke-width="0.7"/>
<line x1="630.1" y1="93.2" x2="632.1" y2="93.2" stroke="#000" stroke-width="0.7"/>
<line x1="630.1" y1="96.0" x2="632.1" y2="96.0" stroke="#000" stroke-width="0.7"/>
<line x1="630.1" y1="101.6" x2="632.1" y2="101.6" stroke="#000" stroke-width="0.7"/>
<line x1="630.1" y1="104.5" x2="632.1" y2="104.5" stroke="#000" stroke-width="0.7"/>
<line x1="630.1" y1="107.3" x2="632.1" y2="107.3" stroke="#000" stroke-width="0.7"/>
<line x1="630.1" y1="110.1" x2="632.1" y2="110.1" stroke="#000" stroke-width="0.7"/>
<line x1="630.1" y1="113.0" x2="632.1" y2="113.0" stroke="#000" stroke-width="0.7"/>
<line x1="630.1" y1="118.5" x2="632.1" y2="118.5" stroke="#000" stroke-width="0.7"/>
<line x1="630.1" y1="121.3" x2="632.1" y2="121.3" stroke="#000" stroke-width="0.7"/>
<line x1="630.1" y1="124.0" x2="632.1" y2="124.0" stroke="#000" stroke-width="0.7"/>
<line x1="630.1" y1="129.5" x2="632.1" y2="129.5" stroke="#000" stroke-width="0.7"/>
<line x1="630.1" y1="132.1" x2="632.1" y2="132.1" stroke="#000" stroke-width="0.7"/>
<line x1="630.1" y1="134.8" x2="632.1" y2="134.8" stroke="#000" stroke-width="0.7"/>
<line x1="630.1" y1="137.4" x2="632.1" y2="137.4" stroke="#000" stroke-width="0.7"/>
<line x1="630.1" y1="142.9" x2="632.1" y2="142.9" stroke="#000" stroke-width="0.7"/>
<line x1="630.1" y1="145.6" x2="632.1" y2="145.6" stroke="#000" stroke-width="0.7"/>
<line x1="630.1" y1="148.4" x2="632.1" y2="148.4" stroke="#000" stroke-width="0.7"/>
<line x1="630.1" y1="151.2" x2="632.1" y2="151.2" stroke="#000" stroke-width="0.7"/>
<line x1="630.1" y1="153.9" x2="632.1" y2="153.9" stroke="#000" stroke-width="0.7"/>
<line x1="630.1" y1="159.6" x2="632.1" y2="159.6" stroke="#000" stroke-width="0.7"/>
<line x1="630.1" y1="162.4" x2="632.1" y2="162.4" stroke="#000" stroke-width="0.7"/>
<line x1="630.1" y1="165.3" x2="632.1" y2="165.3" stroke="#000" stroke-width="0.7"/>
<line x1="630.1" y1="168.1" x2="632.1" y2="168.1" stroke="#000" stroke-width="0.7"/>
<line x1="630.1" y1="171.0" x2="632.1" y2="171.0" stroke="#000" stroke-width="0.7"/>
<line x1="630.1" y1="173.9" x2="632.1" y2="173.9" stroke="#000" stroke-width="0.7"/>
<line x1="630.1" y1="176.7" x2="632.1" y2="176.7" stroke="#000" stroke-width="0.7"/>
<line x1="630.1" y1="183.3" x2="632.1" y2="183.3" stroke="#000" stroke-width="0.7"/>
<line x1="630.1" y1="190.6" x2="632.1" y2="190.6" stroke="#000" stroke-width="0.7"/>
<line x1="630.1" y1="196.9" x2="632.1" y2="196.9" stroke="#000" stroke-width="0.7"/>
<line x1="630.1" y1="199.6" x2="632.1" y2="199.6" stroke="#000" stroke-width="0.7"/>
<line x1="630.1" y1="205.3" x2="632.1" y2="205.3" stroke="#000" stroke-width="0.7"/>
<line x1="630.1" y1="208.1" x2="632.1" y2="208.1" stroke="#000" stroke-width="0.7"/>
<line x1="630.1" y1="214.4" x2="632.1" y2="214.4" stroke="#000" stroke-width="0.7"/>
<line x1="630.1" y1="217.7" x2="632.1" y2="217.7" stroke="#000" stroke-width="0.7"/>
<line x1="630.1" y1="224.0" x2="632.1" y2="224.0" stroke="#000" stroke-width="0.7"/>
<line x1="630.1" y1="226.8" x2="632.1" y2="226.8" stroke="#000" stroke-width="0.7"/>
<line x1="630.1" y1="229.7" x2="632.1" y2="229.7" stroke="#000" stroke-width="0.7"/>
<line x1="630.1" y1="232.5" x2="632.1" y2="232.5" stroke="#000" stroke-width="0.7"/>
<line x1="630.1" y1="239.2" x2="632.1" y2="239.2" stroke="#000" stroke-width="0.7"/>
<line x1="630.1" y1="246.4" x2="632.1" y2="246.4" stroke="#000" stroke-width="0.7"/>
<line x1="630.1" y1="249.9" x2="632.1" y2="249.9" stroke="#000" stroke-width="0.7"/>
<line x1="630.1" y1="256.2" x2="632.1" y2="256.2" stroke="#000" stroke-width="0.7"/>
<line x1="630.1" y1="259.1" x2="632.1" y2="259.1" stroke="#000" stroke-width="0.7"/>
<line x1="630.1" y1="261.9" x2="632.1" y2="261.9" stroke="#000" stroke-width="0.7"/>
<line x1="630.1" y1="264.8" x2="632.1" y2="264.8" stroke="#000" stroke-width="0.7"/>
<line x1="630.1" y1="267.7" x2="632.1" y2="267.7" stroke="#000" stroke-width="0.7"/>
<line x1="630.1" y1="270.6" x2="632.1" y2="270.6" stroke="#000" stroke-width="0.7"/>
<line x1="630.1" y1="273.4" x2="632.1" y2="273.4" stroke="#000" stroke-width="0.7"/>
<line x1="630.1" y1="278.9" x2="632.1" y2="278.9" stroke="#000" stroke-width="0.7"/>
<line x1="630.1" y1="281.6" x2="632.1" y2="281.6" stroke="#000" stroke-width="0.7"/>
<line x1="630.1" y1="284.2" x2="632.1" y2="284.2" stroke="#000" stroke-width="0.7"/>
<line x1="630.1" y1="286.8" x2="632.1" y2="286.8" stroke="#000" stroke-width="0.7"/>
<line x1="630.1" y1="289.5" x2="632.1" y2="289.5" stroke="#000" stroke-width="0.7"/>
<line x1="630.1" y1="292.1" x2="632.1" y2="292.1" stroke="#000" stroke-width="0.7"/>
<line x1="630.1" y1="294.7" x2="632.1" y2="294.7" stroke="#000" stroke-width="0.7"/>
<line x1="630.1" y1="297.4" x2="632.1" y2="297.4" stroke="#000" stroke-width="0.7"/>
<line x1="630.1" y1="300.0" x2="632.1" y2="300.0" stroke="#000" stroke-width="0.7"/>
<line x1="630.1" y1="302.6" x2="632.1" y2="302.6" stroke="#000" stroke-width="0.7"/>
<line x1="630.1" y1="305.2" x2="632.1" y2="305.2" stroke="#000" stroke-width="0.7"/>
<line x1="630.1" y1="307.9" x2="632.1" y2="307.9" stroke="#000" stroke-width="0.7"/>
<line x1="630.1" y1="310.5" x2="632.1" y2="310.5" stroke="#000" stroke-width="0.7"/>
<line x1="630.1" y1="313.1" x2="632.1" y2="313.1" stroke="#000" stroke-width="0.7"/>
<line x1="630.1" y1="315.8" x2="632.1" y2="315.8" stroke="#000" stroke-width="0.7"/>
<line x1="630.1" y1="321.4" x2="632.1" y2="321.4" stroke="#000" stroke-width="0.7"/>
<line x1="630.1" y1="327.8" x2="632.1" y2="327.8" stroke="#000" stroke-width="0.7"/>
<line x1="630.1" y1="333.8" x2="632.1" y2="333.8" stroke="#000" stroke-width="0.7"/>
<line x1="630.1" y1="336.4" x2="632.1" y2="336.4" stroke="#000" stroke-width="0.7"/>
<line x1="630.1" y1="341.9" x2="632.1" y2="341.9" stroke="#000" stroke-width="0.7"/>
<line x1="630.1" y1="344.9" x2="632.1" y2="344.9" stroke="#000" stroke-width="0.7"/>
<line x1="630.1" y1="350.5" x2="632.1" y2="350.5" stroke="#000" stroke-width="0.7"/>
<line x1="630.1" y1="353.2" x2="632.1" y2="353.2" stroke="#000" stroke-width="0.7"/>
<line x1="630.1" y1="355.9" x2="632.1" y2="355.9" stroke="#000" stroke-width="0.7"/>
<line x1="630.1" y1="361.8" x2="632.1" y2="361.8" stroke="#000" stroke-width="0.7"/>
<line x1="630.1" y1="365.0" x2="632.1" y2="365.0" stroke="#000" stroke-width="0.7"/>
<line x1="630.1" y1="368.2" x2="632.1" y2="368.2" stroke="#000" stroke-width="0.7"/>
<line x1="630.1" y1="374.1" x2="632.1" y2="374.1" stroke="#000" stroke-width="0.7"/>
<line x1="630.1" y1="376.7" x2="632.1" y2="376.7" stroke="#000" stroke-width="0.7"/>
<line x1="630.1" y1="379.4" x2="632.1" y2="379.4" stroke="#000" stroke-width="0.7"/>
<line x1="630.1" y1="382.0" x2="632.1" y2="382.0" stroke="#000" stroke-width="0.7"/>
<line x1="630.1" y1="384.7" x2="632.1" y2="384.7" stroke="#000" stroke-width="0.7"/>
<line x1="630.1" y1="387.3" x2="632.1" y2="387.3" stroke="#000" stroke-width="0.7"/>
<line x1="630.1" y1="392.8" x2="632.1" y2="392.8" stroke="#000" stroke-width="0.7"/>
<line x1="630.1" y1="395.6" x2="632.1" y2="395.6" stroke="#000" stroke-width="0.7"/>
<line x1="630.1" y1="398.4" x2="632.1" y2="398.4" stroke="#000" stroke-width="0.7"/>
<line x1="630.1" y1="401.2" x2="632.1" y2="401.2" stroke="#000" stroke-width="0.7"/>
<line x1="630.1" y1="404.1" x2="632.1" y2="404.1" stroke="#000" stroke-width="0.7"/>
<line x1="630.1" y1="406.9" x2="632.1" y2="406.9" stroke="#000" stroke-width="0.7"/>
<line x1="630.1" y1="409.7" x2="632.1" y2="409.7" stroke="#000" stroke-width="0.7"/>
<line x1="630.1" y1="415.2" x2="632.1" y2="415.2" stroke="#000" stroke-width="0.7"/>
<line x1="630.1" y1="417.9" x2="632.1" y2="417.9" stroke="#000" stroke-width="0.7"/>
<line x1="630.1" y1="420.5" x2="632.1" y2="420.5" stroke="#000" stroke-width="0.7"/>
<line x1="630.1" y1="423.2" x2="632.1" y2="423.2" stroke="#000" stroke-width="0.7"/>
<line x1="630.1" y1="425.9" x2="632.1" y2="425.9" stroke="#000" stroke-width="0.7"/>
<line x1="630.1" y1="428.6" x2="632.1" y2="428.6" stroke="#000" stroke-width="0.7"/>
<line x1="630.1" y1="431.3" x2="632.1" y2="431.3" stroke="#000" stroke-width="0.7"/>
<line x1="630.1" y1="433.9" x2="632.1" y2="433.9" stroke="#000" stroke-width="0.7"/>
<line x1="630.1" y1="436.6" x2="632.1" y2="436.6" stroke="#000" stroke-width="0.7"/>
<line x1="630.1" y1="439.3" x2="632.1" y2="439.3" stroke="#000" stroke-width="0.7"/>
<line x1="630.1" y1="442.0" x2="632.1" y2="442.0" stroke="#000" stroke-width="0.7"/>
<line x1="630.1" y1="444.7" x2="632.1" y2="444.7" stroke="#000" stroke-width="0.7"/>
<line x1="630.1" y1="447.3" x2="632.1" y2="447.3" stroke="#000" stroke-width="0.7"/>
<line x1="630.1" y1="450.0" x2="632.1" y2="450.0" stroke="#000" stroke-width="0.7"/>
<text transform="translate(613,312.5) rotate(-90)" font-size="3.8" textLength="70" lengthAdjust="spacingAndGlyphs" fill="#333" class="tb">лоп гр дол-ьеооле в мьлн пол</text>
<text transform="translate(621.4,291) rotate(-90)" font-size="3.2" textLength="48" lengthAdjust="spacingAndGlyphs" fill="#555" class="tb">Длительность маневра</text></g>
<g transform="translate(0,456)"><g filter="url(#soft)"><rect x="136" y="75" width="501" height="384" fill="#fcfdfc"/>
<circle cx="327.9" cy="266.3" r="190.5" fill="#f6fcf7"/>
<line x1="329.6" y1="247.2" x2="344.5" y2="76.5" stroke="#84da90" stroke-width="1.75"/>
<line x1="331.2" y1="247.4" x2="358.4" y2="93.1" stroke="#357a4a" stroke-width="1.0"/>
<line x1="332.9" y1="247.8" x2="377.2" y2="82.3" stroke="#84da90" stroke-width="1.75"/>
<line x1="334.5" y1="248.3" x2="388.0" y2="101.0" stroke="#357a4a" stroke-width="1.0"/>
<line x1="336.0" y1="248.9" x2="408.4" y2="93.6" stroke="#84da90" stroke-width="1.75"/>
<line x1="337.5" y1="249.7" x2="415.8" y2="114.0" stroke="#357a4a" stroke-width="1.0"/>
<line x1="338.9" y1="250.6" x2="437.2" y2="110.2" stroke="#84da90" stroke-width="1.75"/>
<line x1="340.2" y1="251.6" x2="440.9" y2="131.6" stroke="#357a4a" stroke-width="1.0"/>
<line x1="341.5" y1="252.7" x2="462.6" y2="131.6" stroke="#84da90" stroke-width="1.75"/>
<line x1="342.6" y1="254.0" x2="462.6" y2="153.3" stroke="#357a4a" stroke-width="1.0"/>
<line x1="343.6" y1="255.3" x2="484.0" y2="157.0" stroke="#84da90" stroke-width="1.75"/>
<line x1="344.5" y1="256.7" x2="480.2" y2="178.4" stroke="#357a4a" stroke-width="1.0"/>
<line x1="345.3" y1="258.2" x2="500.6" y2="185.8" stroke="#84da90" stroke-width="1.75"/>
<line x1="345.9" y1="259.7" x2="493.2" y2="206.2" stroke="#357a4a" stroke-width="1.0"/>
<line x1="346.4" y1="261.3" x2="511.9" y2="217.0" stroke="#84da90" stroke-width="1.75"/>
<line x1="346.8" y1="263.0" x2="501.1" y2="235.8" stroke="#357a4a" stroke-width="1.0"/>
<line x1="347.0" y1="264.6" x2="517.7" y2="249.7" stroke="#84da90" stroke-width="1.75"/>
<line x1="347.0" y1="268.0" x2="517.7" y2="282.9" stroke="#84da90" stroke-width="1.75"/>
<line x1="346.8" y1="269.6" x2="501.1" y2="296.8" stroke="#357a4a" stroke-width="1.0"/>
<line x1="346.4" y1="271.3" x2="511.9" y2="315.6" stroke="#84da90" stroke-width="1.75"/>
<line x1="345.9" y1="272.9" x2="493.2" y2="326.4" stroke="#357a4a" stroke-width="1.0"/>
<line x1="345.3" y1="274.4" x2="500.6" y2="346.8" stroke="#84da90" stroke-width="1.75"/>
<line x1="344.5" y1="275.9" x2="480.2" y2="354.2" stroke="#357a4a" stroke-width="1.0"/>
<line x1="343.6" y1="277.3" x2="484.0" y2="375.6" stroke="#84da90" stroke-width="1.75"/>
<line x1="342.6" y1="278.6" x2="462.6" y2="379.3" stroke="#357a4a" stroke-width="1.0"/>
<line x1="341.5" y1="279.9" x2="462.6" y2="401.0" stroke="#84da90" stroke-width="1.75"/>
<line x1="340.2" y1="281.0" x2="440.9" y2="401.0" stroke="#357a4a" stroke-width="1.0"/>
<line x1="338.9" y1="282.0" x2="437.2" y2="422.4" stroke="#84da90" stroke-width="1.75"/>
<line x1="337.5" y1="282.9" x2="415.8" y2="418.6" stroke="#357a4a" stroke-width="1.0"/>
<line x1="336.0" y1="283.7" x2="408.4" y2="439.0" stroke="#84da90" stroke-width="1.75"/>
<line x1="334.5" y1="284.3" x2="388.0" y2="431.6" stroke="#357a4a" stroke-width="1.0"/>
<line x1="332.9" y1="284.8" x2="377.2" y2="450.3" stroke="#84da90" stroke-width="1.75"/>
<line x1="331.2" y1="285.2" x2="358.4" y2="439.5" stroke="#357a4a" stroke-width="1.0"/>
<line x1="329.6" y1="285.4" x2="344.5" y2="456.1" stroke="#84da90" stroke-width="1.75"/>
<line x1="326.2" y1="285.4" x2="311.3" y2="456.1" stroke="#84da90" stroke-width="1.75"/>
<line x1="324.6" y1="285.2" x2="297.4" y2="439.5" stroke="#357a4a" stroke-width="1.0"/>
<line x1="322.9" y1="284.8" x2="278.6" y2="450.3" stroke="#84da90" stroke-width="1.75"/>
<line x1="321.3" y1="284.3" x2="267.8" y2="431.6" stroke="#357a4a" stroke-width="1.0"/>
<line x1="319.8" y1="283.7" x2="247.4" y2="439.0" stroke="#84da90" stroke-width="1.75"/>
<line x1="318.3" y1="282.9" x2="240.0" y2="418.6" stroke="#357a4a" stroke-width="1.0"/>
<line x1="316.9" y1="282.0" x2="218.6" y2="422.4" stroke="#84da90" stroke-width="1.75"/>
<line x1="315.6" y1="281.0" x2="214.9" y2="401.0" stroke="#357a4a" stroke-width="1.0"/>
<line x1="314.3" y1="279.9" x2="193.2" y2="401.0" stroke="#84da90" stroke-width="1.75"/>
<line x1="313.2" y1="278.6" x2="193.2" y2="379.3" stroke="#357a4a" stroke-width="1.0"/>
<line x1="312.2" y1="277.3" x2="171.8" y2="375.6" stroke="#84da90" stroke-width="1.75"/>
<line x1="311.3" y1="275.9" x2="175.6" y2="354.2" stroke="#357a4a" stroke-width="1.0"/>
<line x1="310.5" y1="274.4" x2="155.2" y2="346.8" stroke="#84da90" stroke-width="1.75"/>
<line x1="309.9" y1="272.9" x2="162.6" y2="326.4" stroke="#357a4a" stroke-width="1.0"/>
<line x1="309.4" y1="271.3" x2="143.9" y2="315.6" stroke="#84da90" stroke-width="1.75"/>
<line x1="309.0" y1="269.6" x2="154.7" y2="296.8" stroke="#357a4a" stroke-width="1.0"/>
<line x1="308.8" y1="268.0" x2="138.1" y2="282.9" stroke="#84da90" stroke-width="1.75"/>
<line x1="308.8" y1="264.6" x2="138.1" y2="249.7" stroke="#84da90" stroke-width="1.75"/>
<line x1="309.0" y1="263.0" x2="154.7" y2="235.8" stroke="#357a4a" stroke-width="1.0"/>
<line x1="309.4" y1="261.3" x2="143.9" y2="217.0" stroke="#84da90" stroke-width="1.75"/>
<line x1="309.9" y1="259.7" x2="162.6" y2="206.2" stroke="#357a4a" stroke-width="1.0"/>
<line x1="310.5" y1="258.2" x2="155.2" y2="185.8" stroke="#84da90" stroke-width="1.75"/>
<line x1="311.3" y1="256.7" x2="175.6" y2="178.4" stroke="#357a4a" stroke-width="1.0"/>
<line x1="312.2" y1="255.3" x2="171.8" y2="157.0" stroke="#84da90" stroke-width="1.75"/>
<line x1="313.2" y1="254.0" x2="193.2" y2="153.3" stroke="#357a4a" stroke-width="1.0"/>
<line x1="314.3" y1="252.7" x2="193.2" y2="131.6" stroke="#84da90" stroke-width="1.75"/>
<line x1="315.6" y1="251.6" x2="214.9" y2="131.6" stroke="#357a4a" stroke-width="1.0"/>
<line x1="316.9" y1="250.6" x2="218.6" y2="110.2" stroke="#84da90" stroke-width="1.75"/>
<line x1="318.3" y1="249.7" x2="240.0" y2="114.0" stroke="#357a4a" stroke-width="1.0"/>
<line x1="319.8" y1="248.9" x2="247.4" y2="93.6" stroke="#84da90" stroke-width="1.75"/>
<line x1="321.3" y1="248.3" x2="267.8" y2="101.0" stroke="#357a4a" stroke-width="1.0"/>
<line x1="322.9" y1="247.8" x2="278.6" y2="82.3" stroke="#84da90" stroke-width="1.75"/>
<line x1="324.6" y1="247.4" x2="297.4" y2="93.1" stroke="#357a4a" stroke-width="1.0"/>
<line x1="326.2" y1="247.2" x2="311.3" y2="76.5" stroke="#84da90" stroke-width="1.75"/>
<line x1="328.7" y1="247.1" x2="329.2" y2="237.1" stroke="#8ee09a" stroke-width="0.9"/>
<line x1="330.4" y1="247.3" x2="331.7" y2="237.3" stroke="#8ee09a" stroke-width="0.9"/>
<line x1="332.1" y1="247.6" x2="334.2" y2="237.7" stroke="#8ee09a" stroke-width="0.9"/>
<line x1="333.7" y1="248.0" x2="336.7" y2="238.4" stroke="#8ee09a" stroke-width="0.9"/>
<line x1="335.2" y1="248.6" x2="339.1" y2="239.3" stroke="#8ee09a" stroke-width="0.9"/>
<line x1="336.8" y1="249.3" x2="341.4" y2="240.3" stroke="#8ee09a" stroke-width="0.9"/>
<line x1="338.2" y1="250.1" x2="343.6" y2="241.6" stroke="#8ee09a" stroke-width="0.9"/>
<line x1="339.6" y1="251.1" x2="345.7" y2="243.1" stroke="#8ee09a" stroke-width="0.9"/>
<line x1="340.9" y1="252.1" x2="347.7" y2="244.7" stroke="#8ee09a" stroke-width="0.9"/>
<line x1="342.1" y1="253.3" x2="349.5" y2="246.5" stroke="#8ee09a" stroke-width="0.9"/>
<line x1="343.1" y1="254.6" x2="351.1" y2="248.5" stroke="#8ee09a" stroke-width="0.9"/>
<line x1="344.1" y1="256.0" x2="352.6" y2="250.6" stroke="#8ee09a" stroke-width="0.9"/>
<line x1="344.9" y1="257.4" x2="353.9" y2="252.8" stroke="#8ee09a" stroke-width="0.9"/>
<line x1="345.6" y1="259.0" x2="354.9" y2="255.1" stroke="#8ee09a" stroke-width="0.9"/>
<line x1="346.2" y1="260.5" x2="355.8" y2="257.5" stroke="#8ee09a" stroke-width="0.9"/>
<line x1="346.6" y1="262.1" x2="356.5" y2="260.0" stroke="#8ee09a" stroke-width="0.9"/>
<line x1="346.9" y1="263.8" x2="356.9" y2="262.5" stroke="#8ee09a" stroke-width="0.9"/>
<line x1="347.1" y1="265.5" x2="357.1" y2="265.0" stroke="#8ee09a" stroke-width="0.9"/>
<line x1="347.1" y1="267.1" x2="357.1" y2="267.6" stroke="#8ee09a" stroke-width="0.9"/>
<line x1="346.9" y1="268.8" x2="356.9" y2="270.1" stroke="#8ee09a" stroke-width="0.9"/>
<line x1="346.6" y1="270.5" x2="356.5" y2="272.6" stroke="#8ee09a" stroke-width="0.9"/>
<line x1="346.2" y1="272.1" x2="355.8" y2="275.1" stroke="#8ee09a" stroke-width="0.9"/>
<line x1="345.6" y1="273.6" x2="354.9" y2="277.5" stroke="#8ee09a" stroke-width="0.9"/>
<line x1="344.9" y1="275.2" x2="353.9" y2="279.8" stroke="#8ee09a" stroke-width="0.9"/>
<line x1="344.1" y1="276.6" x2="352.6" y2="282.0" stroke="#8ee09a" stroke-width="0.9"/>
<line x1="343.1" y1="278.0" x2="351.1" y2="284.1" stroke="#8ee09a" stroke-width="0.9"/>
<line x1="342.1" y1="279.3" x2="349.5" y2="286.1" stroke="#8ee09a" stroke-width="0.9"/>
<line x1="340.9" y1="280.5" x2="347.7" y2="287.9" stroke="#8ee09a" stroke-width="0.9"/>
<line x1="339.6" y1="281.5" x2="345.7" y2="289.5" stroke="#8ee09a" stroke-width="0.9"/>
<line x1="338.2" y1="282.5" x2="343.6" y2="291.0" stroke="#8ee09a" stroke-width="0.9"/>
<line x1="336.8" y1="283.3" x2="341.4" y2="292.3" stroke="#8ee09a" stroke-width="0.9"/>
<line x1="335.2" y1="284.0" x2="339.1" y2="293.3" stroke="#8ee09a" stroke-width="0.9"/>
<line x1="333.7" y1="284.6" x2="336.7" y2="294.2" stroke="#8ee09a" stroke-width="0.9"/>
<line x1="332.1" y1="285.0" x2="334.2" y2="294.9" stroke="#8ee09a" stroke-width="0.9"/>
<line x1="330.4" y1="285.3" x2="331.7" y2="295.3" stroke="#8ee09a" stroke-width="0.9"/>
<line x1="328.7" y1="285.5" x2="329.2" y2="295.5" stroke="#8ee09a" stroke-width="0.9"/>
<line x1="327.1" y1="285.5" x2="326.6" y2="295.5" stroke="#8ee09a" stroke-width="0.9"/>
<line x1="325.4" y1="285.3" x2="324.1" y2="295.3" stroke="#8ee09a" stroke-width="0.9"/>
<line x1="323.7" y1="285.0" x2="321.6" y2="294.9" stroke="#8ee09a" stroke-width="0.9"/>
<line x1="322.1" y1="284.6" x2="319.1" y2="294.2" stroke="#8ee09a" stroke-width="0.9"/>
<line x1="320.6" y1="284.0" x2="316.7" y2="293.3" stroke="#8ee09a" stroke-width="0.9"/>
<line x1="319.0" y1="283.3" x2="314.4" y2="292.3" stroke="#8ee09a" stroke-width="0.9"/>
<line x1="317.6" y1="282.5" x2="312.2" y2="291.0" stroke="#8ee09a" stroke-width="0.9"/>
<line x1="316.2" y1="281.5" x2="310.1" y2="289.5" stroke="#8ee09a" stroke-width="0.9"/>
<line x1="314.9" y1="280.5" x2="308.1" y2="287.9" stroke="#8ee09a" stroke-width="0.9"/>
<line x1="313.7" y1="279.3" x2="306.3" y2="286.1" stroke="#8ee09a" stroke-width="0.9"/>
<line x1="312.7" y1="278.0" x2="304.7" y2="284.1" stroke="#8ee09a" stroke-width="0.9"/>
<line x1="311.7" y1="276.6" x2="303.2" y2="282.0" stroke="#8ee09a" stroke-width="0.9"/>
<line x1="310.9" y1="275.2" x2="301.9" y2="279.8" stroke="#8ee09a" stroke-width="0.9"/>
<line x1="310.2" y1="273.6" x2="300.9" y2="277.5" stroke="#8ee09a" stroke-width="0.9"/>
<line x1="309.6" y1="272.1" x2="300.0" y2="275.1" stroke="#8ee09a" stroke-width="0.9"/>
<line x1="309.2" y1="270.5" x2="299.3" y2="272.6" stroke="#8ee09a" stroke-width="0.9"/>
<line x1="308.9" y1="268.8" x2="298.9" y2="270.1" stroke="#8ee09a" stroke-width="0.9"/>
<line x1="308.7" y1="267.1" x2="298.7" y2="267.6" stroke="#8ee09a" stroke-width="0.9"/>
<line x1="308.7" y1="265.5" x2="298.7" y2="265.0" stroke="#8ee09a" stroke-width="0.9"/>
<line x1="308.9" y1="263.8" x2="298.9" y2="262.5" stroke="#8ee09a" stroke-width="0.9"/>
<line x1="309.2" y1="262.1" x2="299.3" y2="260.0" stroke="#8ee09a" stroke-width="0.9"/>
<line x1="309.6" y1="260.5" x2="300.0" y2="257.5" stroke="#8ee09a" stroke-width="0.9"/>
<line x1="310.2" y1="259.0" x2="300.9" y2="255.1" stroke="#8ee09a" stroke-width="0.9"/>
<line x1="310.9" y1="257.4" x2="301.9" y2="252.8" stroke="#8ee09a" stroke-width="0.9"/>
<line x1="311.7" y1="256.0" x2="303.2" y2="250.6" stroke="#8ee09a" stroke-width="0.9"/>
<line x1="312.7" y1="254.6" x2="304.7" y2="248.5" stroke="#8ee09a" stroke-width="0.9"/>
<line x1="313.7" y1="253.3" x2="306.3" y2="246.5" stroke="#8ee09a" stroke-width="0.9"/>
<line x1="314.9" y1="252.1" x2="308.1" y2="244.7" stroke="#8ee09a" stroke-width="0.9"/>
<line x1="316.2" y1="251.1" x2="310.1" y2="243.1" stroke="#8ee09a" stroke-width="0.9"/>
<line x1="317.6" y1="250.1" x2="312.2" y2="241.6" stroke="#8ee09a" stroke-width="0.9"/>
<line x1="319.0" y1="249.3" x2="314.4" y2="240.3" stroke="#8ee09a" stroke-width="0.9"/>
<line x1="320.6" y1="248.6" x2="316.7" y2="239.3" stroke="#8ee09a" stroke-width="0.9"/>
<line x1="322.1" y1="248.0" x2="319.1" y2="238.4" stroke="#8ee09a" stroke-width="0.9"/>
<line x1="323.7" y1="247.6" x2="321.6" y2="237.7" stroke="#8ee09a" stroke-width="0.9"/>
<line x1="325.4" y1="247.3" x2="324.1" y2="237.3" stroke="#8ee09a" stroke-width="0.9"/>
<line x1="327.1" y1="247.1" x2="326.6" y2="237.1" stroke="#8ee09a" stroke-width="0.9"/>
<circle cx="327.9" cy="266.3" r="29.3" fill="none" stroke="#244f30" stroke-width="1.2"/>
<circle cx="327.9" cy="266.3" r="43.9" fill="none" stroke="#111" stroke-width="1.2"/>
<circle cx="327.9" cy="266.3" r="58.6" fill="none" stroke="#29673f" stroke-width="1.2"/>
<circle cx="327.9" cy="266.3" r="73.2" fill="none" stroke="#29673f" stroke-width="1.2"/>
<circle cx="327.9" cy="266.3" r="87.9" fill="none" stroke="#111" stroke-width="1.2"/>
<circle cx="327.9" cy="266.3" r="102.6" fill="none" stroke="#29673f" stroke-width="1.2"/>
<circle cx="327.9" cy="266.3" r="117.2" fill="none" stroke="#29673f" stroke-width="1.2"/>
<circle cx="327.9" cy="266.3" r="131.9" fill="none" stroke="#29673f" stroke-width="1.2"/>
<circle cx="327.9" cy="266.3" r="146.5" fill="none" stroke="#29673f" stroke-width="1.2"/>
<circle cx="327.9" cy="266.3" r="161.2" fill="none" stroke="#111" stroke-width="1.2"/>
<circle cx="327.9" cy="266.3" r="175.9" fill="none" stroke="#2f7546" stroke-width="1.2"/>
<circle cx="327.9" cy="266.3" r="190.5" fill="none" stroke="#378a4d" stroke-width="1.2"/>
<line x1="327.9" y1="87.9" x2="327.9" y2="444.7" stroke="#000" stroke-width="1.25"/>
<line x1="149.5" y1="266.3" x2="506.3" y2="266.3" stroke="#111" stroke-width="1.25"/>
<line x1="327.9" y1="78.0" x2="327.9" y2="75.2" stroke="#000" stroke-width="1.1"/>
<line x1="327.9" y1="454.6" x2="327.9" y2="457.4" stroke="#000" stroke-width="1.1"/>
<line x1="139.6" y1="266.3" x2="136.8" y2="266.3" stroke="#000" stroke-width="1.1"/>
<line x1="516.2" y1="266.3" x2="519.0" y2="266.3" stroke="#000" stroke-width="1.1"/>
<circle cx="327.9" cy="266.3" r="19.2" fill="#fdfefd"/>
<line x1="319.4" y1="266.3" x2="336.4" y2="266.3" stroke="#111" stroke-width="1"/>
<line x1="327.9" y1="257.3" x2="327.9" y2="274.3" stroke="#000" stroke-width="1"/>
<rect x="329.7" y="233.0" width="6.3" height="8" fill="#fbfefb"/>
<text x="330.2" y="240.4" class="ax">1</text>
<rect x="329.7" y="291.6" width="6.3" height="8" fill="#fbfefb"/>
<text x="330.2" y="299.0" class="ax">1</text>
<rect x="295.5" y="255.8" width="6.3" height="7.5" fill="#fbfefb"/>
<text x="298.6" y="263.3" class="ax" text-anchor="middle" fill="#000">1</text>
<rect x="354.0" y="255.8" width="6.3" height="7.5" fill="#fbfefb"/>
<text x="357.2" y="263.3" class="ax" text-anchor="middle" fill="#000">1</text>
<rect x="329.7" y="218.4" width="6.3" height="8" fill="#fbfefb"/>
<text x="330.2" y="225.8" class="ax">2</text>
<rect x="329.7" y="306.2" width="6.3" height="8" fill="#fbfefb"/>
<text x="330.2" y="313.6" class="ax">2</text>
<rect x="280.8" y="255.8" width="6.3" height="7.5" fill="#fbfefb"/>
<text x="284.0" y="263.3" class="ax" text-anchor="middle" fill="#000">2</text>
<rect x="368.7" y="255.8" width="6.3" height="7.5" fill="#fbfefb"/>
<text x="371.8" y="263.3" class="ax" text-anchor="middle" fill="#000">2</text>
<rect x="329.7" y="203.7" width="6.3" height="8" fill="#fbfefb"/>
<text x="330.2" y="211.1" class="ax">3</text>
<rect x="329.7" y="320.9" width="6.3" height="8" fill="#fbfefb"/>
<text x="330.2" y="328.3" class="ax">3</text>
<rect x="266.2" y="255.8" width="6.3" height="7.5" fill="#fbfefb"/>
<text x="269.3" y="263.3" class="ax" text-anchor="middle" fill="#000">3</text>
<rect x="383.3" y="255.8" width="6.3" height="7.5" fill="#fbfefb"/>
<text x="386.5" y="263.3" class="ax" text-anchor="middle" fill="#000">3</text>
<rect x="329.7" y="189.1" width="6.3" height="8" fill="#fbfefb"/>
<text x="330.2" y="196.5" class="ax">4</text>
<rect x="329.7" y="335.5" width="6.3" height="8" fill="#fbfefb"/>
<text x="330.2" y="342.9" class="ax">4</text>
<rect x="251.5" y="255.8" width="6.3" height="7.5" fill="#fbfefb"/>
<text x="254.7" y="263.3" class="ax" text-anchor="middle" fill="#000">4</text>
<rect x="398.0" y="255.8" width="6.3" height="7.5" fill="#fbfefb"/>
<text x="401.1" y="263.3" class="ax" text-anchor="middle" fill="#000">4</text>
<rect x="329.7" y="174.4" width="6.3" height="8" fill="#fbfefb"/>
<text x="330.2" y="181.8" class="ax">5</text>
<rect x="329.7" y="350.2" width="6.3" height="8" fill="#fbfefb"/>
<text x="330.2" y="357.6" class="ax">5</text>
<rect x="236.9" y="255.8" width="6.3" height="7.5" fill="#fbfefb"/>
<text x="240.0" y="263.3" class="ax" text-anchor="middle" fill="#000">5</text>
<rect x="412.7" y="255.8" width="6.3" height="7.5" fill="#fbfefb"/>
<text x="415.8" y="263.3" class="ax" text-anchor="middle" fill="#000">5</text>
<rect x="329.7" y="159.7" width="6.3" height="8" fill="#fbfefb"/>
<text x="330.2" y="167.1" class="ax">6</text>
<rect x="329.7" y="364.9" width="6.3" height="8" fill="#fbfefb"/>
<text x="330.2" y="372.3" class="ax">6</text>
<rect x="222.2" y="255.8" width="6.3" height="7.5" fill="#fbfefb"/>
<text x="225.3" y="263.3" class="ax" text-anchor="middle" fill="#000">6</text>
<rect x="427.3" y="255.8" width="6.3" height="7.5" fill="#fbfefb"/>
<text x="430.5" y="263.3" class="ax" text-anchor="middle" fill="#000">6</text>
<rect x="329.7" y="145.1" width="6.3" height="8" fill="#fbfefb"/>
<text x="330.2" y="152.5" class="ax">7</text>
<rect x="329.7" y="379.5" width="6.3" height="8" fill="#fbfefb"/>
<text x="330.2" y="386.9" class="ax">7</text>
<rect x="207.5" y="255.8" width="6.3" height="7.5" fill="#fbfefb"/>
<text x="210.7" y="263.3" class="ax" text-anchor="middle" fill="#000">7</text>
<rect x="442.0" y="255.8" width="6.3" height="7.5" fill="#fbfefb"/>
<text x="445.1" y="263.3" class="ax" text-anchor="middle" fill="#000">7</text>
<rect x="329.7" y="130.4" width="6.3" height="8" fill="#fbfefb"/>
<text x="330.2" y="137.8" class="ax">8</text>
<rect x="329.7" y="394.2" width="6.3" height="8" fill="#fbfefb"/>
<text x="330.2" y="401.6" class="ax">8</text>
<rect x="192.9" y="255.8" width="6.3" height="7.5" fill="#fbfefb"/>
<text x="196.0" y="263.3" class="ax" text-anchor="middle" fill="#000">8</text>
<rect x="456.6" y="255.8" width="6.3" height="7.5" fill="#fbfefb"/>
<text x="459.8" y="263.3" class="ax" text-anchor="middle" fill="#000">8</text>
<rect x="329.7" y="115.8" width="6.3" height="8" fill="#fbfefb"/>
<text x="330.2" y="123.2" class="ax">9</text>
<rect x="329.7" y="408.8" width="6.3" height="8" fill="#fbfefb"/>
<text x="330.2" y="416.2" class="ax">9</text>
<rect x="178.2" y="255.8" width="6.3" height="7.5" fill="#fbfefb"/>
<text x="181.4" y="263.3" class="ax" text-anchor="middle" fill="#000">9</text>
<rect x="471.3" y="255.8" width="6.3" height="7.5" fill="#fbfefb"/>
<text x="474.4" y="263.3" class="ax" text-anchor="middle" fill="#000">9</text>
<rect x="329.7" y="101.1" width="11.6" height="8" fill="#fbfefb"/>
<text x="330.2" y="108.5" class="ax">10</text>
<rect x="329.7" y="423.5" width="11.6" height="8" fill="#fbfefb"/>
<text x="330.2" y="430.9" class="ax">10</text>
<rect x="160.9" y="255.8" width="11.6" height="7.5" fill="#fbfefb"/>
<text x="166.7" y="263.3" class="ax" text-anchor="middle" fill="#000">10</text>
<rect x="483.3" y="255.8" width="11.6" height="7.5" fill="#fbfefb"/>
<text x="489.1" y="263.3" class="ax" text-anchor="middle" fill="#000">10</text>
<text transform="translate(327.9,82.7) rotate(0)" y="3.6" class="dg" text-anchor="middle">0</text>
<text transform="translate(359.8,85.5) rotate(10)" y="3.6" class="dg" text-anchor="middle">10</text>
<text transform="translate(390.7,93.8) rotate(20)" y="3.6" class="dg" text-anchor="middle">20</text>
<text transform="translate(419.7,107.3) rotate(30)" y="3.6" class="dg" text-anchor="middle">30</text>
<text transform="translate(445.9,125.7) rotate(40)" y="3.6" class="dg" text-anchor="middle">40</text>
<text transform="translate(468.5,148.3) rotate(50)" y="3.6" class="dg" text-anchor="middle">50</text>
<text transform="translate(486.9,174.5) rotate(60)" y="3.6" class="dg" text-anchor="middle">60</text>
<text transform="translate(500.4,203.5) rotate(70)" y="3.6" class="dg" text-anchor="middle">70</text>
<text transform="translate(508.7,234.4) rotate(80)" y="3.6" class="dg" text-anchor="middle">80</text>
<text transform="translate(511.5,266.3) rotate(90)" y="3.6" class="dg" text-anchor="middle">90</text>
<text transform="translate(510.1,298.4) rotate(-80)" y="3.6" class="dg" text-anchor="middle">100</text>
<text transform="translate(501.7,329.6) rotate(-70)" y="3.6" class="dg" text-anchor="middle">110</text>
<text transform="translate(488.1,358.8) rotate(-60)" y="3.6" class="dg" text-anchor="middle">120</text>
<text transform="translate(469.6,385.2) rotate(-50)" y="3.6" class="dg" text-anchor="middle">130</text>
<text transform="translate(446.8,408.0) rotate(-40)" y="3.6" class="dg" text-anchor="middle">140</text>
<text transform="translate(420.4,426.5) rotate(-30)" y="3.6" class="dg" text-anchor="middle">150</text>
<text transform="translate(391.2,440.1) rotate(-20)" y="3.6" class="dg" text-anchor="middle">160</text>
<text transform="translate(360.0,448.5) rotate(-10)" y="3.6" class="dg" text-anchor="middle">170</text>
<text transform="translate(327.9,451.3) rotate(0)" y="3.6" class="dg" text-anchor="middle">180</text>
<text transform="translate(295.8,448.5) rotate(10)" y="3.6" class="dg" text-anchor="middle">190</text>
<text transform="translate(264.6,440.1) rotate(20)" y="3.6" class="dg" text-anchor="middle">200</text>
<text transform="translate(235.4,426.5) rotate(30)" y="3.6" class="dg" text-anchor="middle">210</text>
<text transform="translate(209.0,408.0) rotate(40)" y="3.6" class="dg" text-anchor="middle">220</text>
<text transform="translate(186.2,385.2) rotate(50)" y="3.6" class="dg" text-anchor="middle">230</text>
<text transform="translate(167.7,358.8) rotate(60)" y="3.6" class="dg" text-anchor="middle">240</text>
<text transform="translate(154.1,329.6) rotate(70)" y="3.6" class="dg" text-anchor="middle">250</text>
<text transform="translate(145.7,298.4) rotate(80)" y="3.6" class="dg" text-anchor="middle">260</text>
<text transform="translate(144.3,266.3) rotate(270)" y="3.6" class="dg" text-anchor="middle">270</text>
<text transform="translate(147.1,234.4) rotate(280)" y="3.6" class="dg" text-anchor="middle">280</text>
<text transform="translate(155.4,203.5) rotate(290)" y="3.6" class="dg" text-anchor="middle">290</text>
<text transform="translate(168.9,174.5) rotate(300)" y="3.6" class="dg" text-anchor="middle">300</text>
<text transform="translate(187.3,148.3) rotate(310)" y="3.6" class="dg" text-anchor="middle">310</text>
<text transform="translate(209.9,125.7) rotate(320)" y="3.6" class="dg" text-anchor="middle">320</text>
<text transform="translate(236.1,107.3) rotate(330)" y="3.6" class="dg" text-anchor="middle">330</text>
<text transform="translate(265.1,93.8) rotate(340)" y="3.6" class="dg" text-anchor="middle">340</text>
<text transform="translate(296.0,85.5) rotate(350)" y="3.6" class="dg" text-anchor="middle">350</text>
<line x1="300.5" y1="112.7" x2="357.0" y2="348.8" stroke="#000" stroke-width="1"/>
<line x1="467.2" y1="185.2" x2="204.2" y2="301.8" stroke="#000" stroke-width="1"/>
<line x1="414.6" y1="208.4" x2="188.5" y2="240.8" stroke="#000" stroke-width="1"/>
<line x1="316.3" y1="182.3" x2="235.3" y2="359.2" stroke="#000" stroke-width="1"/>
<circle cx="300.5" cy="112.7" r="4" fill="none" stroke="#000" stroke-width="1.1"/>
<circle cx="306.2" cy="135.7" r="3.5" fill="none" stroke="#000" stroke-width="1.1"/>
<circle cx="312.4" cy="158.6" r="4" fill="none" stroke="#000" stroke-width="1.1"/>
<circle cx="467.2" cy="185.2" r="4" fill="none" stroke="#000" stroke-width="1.1"/>
<circle cx="449.5" cy="192.8" r="3.5" fill="none" stroke="#000" stroke-width="1.1"/>
<circle cx="431.3" cy="200.9" r="4" fill="none" stroke="#000" stroke-width="1.1"/>
<circle cx="414.6" cy="208.4" r="3.2" fill="none" stroke="#000" stroke-width="1.1"/>
<circle cx="316.3" cy="182.3" r="3.2" fill="none" stroke="#000" stroke-width="1.1"/>
<circle cx="414.6" cy="208.4" r="1.3" fill="#000"/>
<circle cx="316.3" cy="182.3" r="1.3" fill="#000"/>
<line x1="283.3" y1="142.7" x2="296.0" y2="120.5" stroke="#000" stroke-width="2.6"/><polygon points="300.5,112.7 299.2,123.5 291.9,119.3" fill="#000"/>
<line x1="300.5" y1="112.7" x2="310.1" y2="149.9" stroke="#000" stroke-width="2.6"/><polygon points="312.4,158.6 305.8,150.0 314.0,147.9" fill="#000"/>
<line x1="283.3" y1="142.7" x2="304.5" y2="154.3" stroke="#000" stroke-width="2.6"/><polygon points="312.4,158.6 301.6,157.5 305.6,150.1" fill="#000"/>
<line x1="450.0" y1="215.5" x2="462.8" y2="193.0" stroke="#000" stroke-width="2.6"/><polygon points="467.2,185.2 465.9,196.0 458.6,191.8" fill="#000"/>
<line x1="467.2" y1="185.2" x2="439.5" y2="197.3" stroke="#000" stroke-width="2.6"/><polygon points="431.3,200.9 438.8,193.0 442.1,200.7" fill="#000"/>
<line x1="450.0" y1="215.5" x2="438.4" y2="206.4" stroke="#000" stroke-width="2.6"/><polygon points="431.3,200.9 441.8,203.7 436.6,210.4" fill="#000"/>
<line x1="327.9" y1="266.3" x2="341.4" y2="242.6" stroke="#000" stroke-width="2.8"/><polygon points="345.8,234.8 344.8,245.7 336.9,241.3" fill="#000"/>
<text x="295.3" y="104.7" class="vl">В1</text>
<text x="274" y="151" class="vl">О</text>
<text x="314" y="152" class="vl">В3</text>
<text x="322.8" y="183.2" class="vl">у</text>
<text x="277.5" y="131.0" class="vl" style="font-size:10.0px">V<tspan style="font-size:5.8px" dy="0.8">н</tspan></text><line x1="277.8" y1="121.7" x2="284.3" y2="121.7" stroke="#000" stroke-width="0.9"/>
<text x="297.0" y="147.5" class="vl" style="font-size:10.0px">V<tspan style="font-size:5.8px" dy="0.8">о</tspan></text><line x1="297.3" y1="138.2" x2="303.8" y2="138.2" stroke="#000" stroke-width="0.9"/>
<text x="287.5" y="160.0" class="vl" style="font-size:10.0px">V<tspan style="font-size:5.8px" dy="0.8">в</tspan></text><line x1="287.8" y1="150.7" x2="294.3" y2="150.7" stroke="#000" stroke-width="0.9"/>
<text x="460" y="179" class="vl">А1</text>
<text x="424.5" y="194.7" class="vl">А3</text>
<text x="411.8" y="201" class="vl">у</text>
<text x="447" y="225.5" class="vl">О</text>
<text x="444.2" y="206.5" class="vl" style="font-size:10.0px">V<tspan style="font-size:5.8px" dy="0.8">о</tspan></text><line x1="444.5" y1="197.2" x2="451.0" y2="197.2" stroke="#000" stroke-width="0.9"/>
<text x="460.0" y="210.5" class="vl" style="font-size:10.0px">V<tspan style="font-size:5.8px" dy="0.8">н</tspan></text><line x1="460.3" y1="201.2" x2="466.8" y2="201.2" stroke="#000" stroke-width="0.9"/>
<text x="435.8" y="219.5" class="vl" style="font-size:10.0px">V<tspan style="font-size:5.8px" dy="0.8">в</tspan></text><line x1="436.1" y1="210.2" x2="442.6" y2="210.2" stroke="#000" stroke-width="0.9"/>
<text x="337.0" y="264.5" class="vl" style="font-size:10.0px">V<tspan style="font-size:5.8px" dy="0.8">н</tspan></text><line x1="337.3" y1="255.2" x2="343.8" y2="255.2" stroke="#000" stroke-width="0.9"/>
<text transform="translate(218.8,288.6) rotate(-28)" y="3" class="vl" text-anchor="middle">ПОД А</text>
<text transform="translate(356.5,327.5) rotate(76.5)" y="3" class="vl" text-anchor="middle">ПОД В</text>
<text transform="translate(207,234.0) rotate(-8.3)" y="3" class="vl" text-anchor="middle">ОЛОД А</text>
<text transform="translate(239,341) rotate(-65.3)" y="3" class="vl" text-anchor="middle">ОЛОД В</text>
<rect x="484.6" y="75.5" width="127.1" height="60.7" fill="#fff" stroke="#000" stroke-width="1.2"/>
<line x1="498.3" y1="75.5" x2="498.3" y2="136.2" stroke="#000" stroke-width="1.1"/>
<line x1="512.5" y1="75.5" x2="512.5" y2="136.2" stroke="#000" stroke-width="1.1"/>
<line x1="527.5" y1="75.5" x2="527.5" y2="136.2" stroke="#000" stroke-width="1.1"/>
<line x1="540.4" y1="85.3" x2="540.4" y2="136.2" stroke="#000" stroke-width="1.1"/>
<line x1="555.4" y1="75.5" x2="555.4" y2="136.2" stroke="#000" stroke-width="1.1"/>
<line x1="569.6" y1="85.3" x2="569.6" y2="136.2" stroke="#000" stroke-width="1.1"/>
<line x1="584.6" y1="75.5" x2="584.6" y2="136.2" stroke="#000" stroke-width="1.1"/>
<line x1="597.5" y1="85.3" x2="597.5" y2="136.2" stroke="#000" stroke-width="1.1"/>
<line x1="527.5" y1="85.3" x2="611.7" y2="85.3" stroke="#000" stroke-width="1.1"/>
<line x1="484.6" y1="95.4" x2="611.7" y2="95.4" stroke="#000" stroke-width="1.1"/>
<line x1="484.6" y1="106.1" x2="611.7" y2="106.1" stroke="#000" stroke-width="1.1"/>
<line x1="484.6" y1="116.2" x2="611.7" y2="116.2" stroke="#000" stroke-width="1.1"/>
<line x1="484.6" y1="126.5" x2="611.7" y2="126.5" stroke="#000" stroke-width="1.1"/>
<text x="491.5" y="87.0" font-size="5.2" text-anchor="middle" class="tb">Т</text>
<text x="505.4" y="87.0" font-size="5.2" text-anchor="middle" class="tb">ИК<tspan font-size="3">н</tspan></text>
<text x="520.0" y="87.0" font-size="5.2" text-anchor="middle" class="tb">V<tspan font-size="3">н</tspan></text>
<text x="541.5" y="82.0" font-size="5.0" text-anchor="middle" class="tb">Судно А</text>
<text x="570.0" y="82.0" font-size="5.0" text-anchor="middle" class="tb">Судно В</text>
<text x="598.2" y="82.0" font-size="5.0" text-anchor="middle" class="tb">Судно С</text>
<text x="534.0" y="91.9" font-size="4.9" text-anchor="middle" class="tb">ПКУ</text>
<text x="547.9" y="91.9" font-size="5.2" text-anchor="middle" class="tb">D</text>
<text x="562.5" y="91.9" font-size="4.9" text-anchor="middle" class="tb">ПКУ</text>
<text x="577.1" y="91.9" font-size="5.2" text-anchor="middle" class="tb">D</text>
<text x="591.0" y="91.9" font-size="4.9" text-anchor="middle" class="tb">ПКУ</text>
<text x="604.6" y="91.9" font-size="5.2" text-anchor="middle" class="tb">D</text>
<text x="491.5" y="102.3" font-size="5.0" text-anchor="middle" class="tb">12-10</text>
<text x="505.4" y="102.3" font-size="5.0" text-anchor="middle" class="tb">36</text>
<text x="520.0" y="102.3" font-size="5.0" text-anchor="middle" class="tb">15</text>
<text x="534.0" y="102.3" font-size="5.0" text-anchor="middle" class="tb">66</text>
<text x="547.9" y="102.3" font-size="5.0" text-anchor="middle" class="tb">10,6</text>
<text x="562.5" y="102.3" font-size="5.0" text-anchor="middle" class="tb">356</text>
<text x="577.1" y="102.3" font-size="5.0" text-anchor="middle" class="tb">9,9</text>
<text x="491.5" y="112.8" font-size="5.0" text-anchor="middle" class="tb">12-13</text>
<text x="534.0" y="112.8" font-size="5.0" text-anchor="middle" class="tb">58</text>
<text x="547.9" y="112.8" font-size="5.0" text-anchor="middle" class="tb">8,7</text>
<text x="562.5" y="112.8" font-size="5.0" text-anchor="middle" class="tb">354</text>
<text x="577.1" y="112.8" font-size="5.0" text-anchor="middle" class="tb">8,6</text>
<text x="491.5" y="122.9" font-size="5.0" text-anchor="middle" class="tb">12-16</text>
<text x="534.0" y="122.9" font-size="5.0" text-anchor="middle" class="tb">57</text>
<text x="547.9" y="122.9" font-size="5.0" text-anchor="middle" class="tb">7,1</text>
<text x="562.5" y="122.9" font-size="5.0" text-anchor="middle" class="tb">351</text>
<text x="577.1" y="122.9" font-size="5.0" text-anchor="middle" class="tb">6,1</text>
<rect x="484.6" y="396.1" width="127.1" height="61.2" fill="#fff" stroke="#000" stroke-width="1.2"/>
<line x1="498.3" y1="396.1" x2="498.3" y2="457.3" stroke="#000" stroke-width="1.1"/>
<line x1="512.5" y1="396.1" x2="512.5" y2="457.3" stroke="#000" stroke-width="1.1"/>
<line x1="527.5" y1="396.1" x2="527.5" y2="457.3" stroke="#000" stroke-width="1.1"/>
<line x1="540.4" y1="406.2" x2="540.4" y2="457.3" stroke="#000" stroke-width="1.1"/>
<line x1="555.4" y1="396.1" x2="555.4" y2="457.3" stroke="#000" stroke-width="1.1"/>
<line x1="569.6" y1="406.2" x2="569.6" y2="457.3" stroke="#000" stroke-width="1.1"/>
<line x1="584.6" y1="396.1" x2="584.6" y2="457.3" stroke="#000" stroke-width="1.1"/>
<line x1="597.5" y1="406.2" x2="597.5" y2="457.3" stroke="#000" stroke-width="1.1"/>
<line x1="527.5" y1="406.2" x2="611.7" y2="406.2" stroke="#000" stroke-width="1.1"/>
<line x1="484.6" y1="416.1" x2="611.7" y2="416.1" stroke="#000" stroke-width="1.1"/>
<line x1="484.6" y1="427.2" x2="611.7" y2="427.2" stroke="#000" stroke-width="1.1"/>
<line x1="484.6" y1="437.5" x2="611.7" y2="437.5" stroke="#000" stroke-width="1.1"/>
<line x1="484.6" y1="447.6" x2="611.7" y2="447.6" stroke="#000" stroke-width="1.1"/>
<text x="491.5" y="407.7" font-size="5.2" text-anchor="middle" class="tb">Т</text>
<text x="505.4" y="407.7" font-size="5.2" text-anchor="middle" class="tb">ИК<tspan font-size="3">н</tspan></text>
<text x="520.0" y="407.7" font-size="5.2" text-anchor="middle" class="tb">V<tspan font-size="3">н</tspan></text>
<text x="541.5" y="402.8" font-size="5.0" text-anchor="middle" class="tb">Судно А</text>
<text x="570.0" y="402.8" font-size="5.0" text-anchor="middle" class="tb">Судно В</text>
<text x="598.2" y="402.8" font-size="5.0" text-anchor="middle" class="tb">Судно С</text>
<text x="534.0" y="412.8" font-size="4.9" text-anchor="middle" class="tb">ПКУ</text>
<text x="547.9" y="412.8" font-size="5.2" text-anchor="middle" class="tb">D</text>
<text x="562.5" y="412.8" font-size="4.9" text-anchor="middle" class="tb">ПКУ</text>
<text x="577.1" y="412.8" font-size="5.2" text-anchor="middle" class="tb">D</text>
<text x="591.0" y="412.8" font-size="4.9" text-anchor="middle" class="tb">ПКУ</text>
<text x="604.6" y="412.8" font-size="5.2" text-anchor="middle" class="tb">D</text>
<line x1="632.1" y1="75.5" x2="632.1" y2="454.0" stroke="#000" stroke-width="1.2"/>
<rect x="623.6" y="74.6" width="4.6" height="2" fill="#000"/>
<line x1="628" y1="75.6" x2="632.1" y2="75.6" stroke="#000" stroke-width="0.8"/>
<rect x="623.6" y="83.8" width="4.6" height="2" fill="#000"/>
<line x1="628" y1="84.8" x2="632.1" y2="84.8" stroke="#000" stroke-width="0.8"/>
<rect x="623.6" y="97.8" width="4.6" height="2" fill="#000"/>
<line x1="628" y1="98.8" x2="632.1" y2="98.8" stroke="#000" stroke-width="0.8"/>
<rect x="623.6" y="114.8" width="4.6" height="2" fill="#000"/>
<line x1="628" y1="115.8" x2="632.1" y2="115.8" stroke="#000" stroke-width="0.8"/>
<rect x="623.6" y="125.8" width="4.6" height="2" fill="#000"/>
<line x1="628" y1="126.8" x2="632.1" y2="126.8" stroke="#000" stroke-width="0.8"/>
<rect x="623.6" y="139.1" width="4.6" height="2" fill="#000"/>
<line x1="628" y1="140.1" x2="632.1" y2="140.1" stroke="#000" stroke-width="0.8"/>
<rect x="623.6" y="155.7" width="4.6" height="2" fill="#000"/>
<line x1="628" y1="156.7" x2="632.1" y2="156.7" stroke="#000" stroke-width="0.8"/>
<rect x="623.6" y="178.6" width="4.6" height="2" fill="#000"/>
<line x1="628" y1="179.6" x2="632.1" y2="179.6" stroke="#000" stroke-width="0.8"/>
<rect x="623.6" y="186.1" width="4.6" height="2" fill="#000"/>
<line x1="628" y1="187.1" x2="632.1" y2="187.1" stroke="#000" stroke-width="0.8"/>
<rect x="623.6" y="193.1" width="4.6" height="2" fill="#000"/>
<line x1="628" y1="194.1" x2="632.1" y2="194.1" stroke="#000" stroke-width="0.8"/>
<rect x="623.6" y="201.4" width="4.6" height="2" fill="#000"/>
<line x1="628" y1="202.4" x2="632.1" y2="202.4" stroke="#000" stroke-width="0.8"/>
<rect x="623.6" y="210.0" width="4.6" height="2" fill="#000"/>
<line x1="628" y1="211.0" x2="632.1" y2="211.0" stroke="#000" stroke-width="0.8"/>
<rect x="623.6" y="220.1" width="4.6" height="2" fill="#000"/>
<line x1="628" y1="221.1" x2="632.1" y2="221.1" stroke="#000" stroke-width="0.8"/>
<rect x="623.6" y="234.4" width="4.6" height="2" fill="#000"/>
<line x1="628" y1="235.4" x2="632.1" y2="235.4" stroke="#000" stroke-width="0.8"/>
<rect x="623.6" y="242.0" width="4.6" height="2" fill="#000"/>
<line x1="628" y1="243.0" x2="632.1" y2="243.0" stroke="#000" stroke-width="0.8"/>
<rect x="623.6" y="252.3" width="4.6" height="2" fill="#000"/>
<line x1="628" y1="253.3" x2="632.1" y2="253.3" stroke="#000" stroke-width="0.8"/>
<rect x="623.6" y="275.3" width="4.6" height="2" fill="#000"/>
<line x1="628" y1="276.3" x2="632.1" y2="276.3" stroke="#000" stroke-width="0.8"/>
<rect x="623.6" y="317.4" width="4.6" height="2" fill="#000"/>
<line x1="628" y1="318.4" x2="632.1" y2="318.4" stroke="#000" stroke-width="0.8"/>
<rect x="623.6" y="323.3" width="4.6" height="2" fill="#000"/>
<line x1="628" y1="324.3" x2="632.1" y2="324.3" stroke="#000" stroke-width="0.8"/>
<rect x="623.6" y="330.2" width="4.6" height="2" fill="#000"/>
<line x1="628" y1="331.2" x2="632.1" y2="331.2" stroke="#000" stroke-width="0.8"/>
<rect x="623.6" y="338.0" width="4.6" height="2" fill="#000"/>
<line x1="628" y1="339.0" x2="632.1" y2="339.0" stroke="#000" stroke-width="0.8"/>
<rect x="623.6" y="346.8" width="4.6" height="2" fill="#000"/>
<line x1="628" y1="347.8" x2="632.1" y2="347.8" stroke="#000" stroke-width="0.8"/>
<rect x="623.6" y="357.6" width="4.6" height="2" fill="#000"/>
<line x1="628" y1="358.6" x2="632.1" y2="358.6" stroke="#000" stroke-width="0.8"/>
<rect x="623.6" y="370.4" width="4.6" height="2" fill="#000"/>
<line x1="628" y1="371.4" x2="632.1" y2="371.4" stroke="#000" stroke-width="0.8"/>
<rect x="623.6" y="389.0" width="4.6" height="2" fill="#000"/>
<line x1="628" y1="390.0" x2="632.1" y2="390.0" stroke="#000" stroke-width="0.8"/>
<rect x="623.6" y="411.5" width="4.6" height="2" fill="#000"/>
<line x1="628" y1="412.5" x2="632.1" y2="412.5" stroke="#000" stroke-width="0.8"/>
<rect x="623.6" y="451.7" width="4.6" height="2" fill="#000"/>
<line x1="628" y1="452.7" x2="632.1" y2="452.7" stroke="#000" stroke-width="0.8"/>
<line x1="630.1" y1="78.7" x2="632.1" y2="78.7" stroke="#000" stroke-width="0.7"/>
<line x1="630.1" y1="81.7" x2="632.1" y2="81.7" stroke="#000" stroke-width="0.7"/>
<line x1="630.1" y1="87.6" x2="632.1" y2="87.6" stroke="#000" stroke-width="0.7"/>
<line x1="630.1" y1="90.4" x2="632.1" y2="90.4" stroke="#000" stroke-width="0.7"/>
<line x1="630.1" y1="93.2" x2="632.1" y2="93.2" stroke="#000" stroke-width="0.7"/>
<line x1="630.1" y1="96.0" x2="632.1" y2="96.0" stroke="#000" stroke-width="0.7"/>
<line x1="630.1" y1="101.6" x2="632.1" y2="101.6" stroke="#000" stroke-width="0.7"/>
<line x1="630.1" y1="104.5" x2="632.1" y2="104.5" stroke="#000" stroke-width="0.7"/>
<line x1="630.1" y1="107.3" x2="632.1" y2="107.3" stroke="#000" stroke-width="0.7"/>
<line x1="630.1" y1="110.1" x2="632.1" y2="110.1" stroke="#000" stroke-width="0.7"/>
<line x1="630.1" y1="113.0" x2="632.1" y2="113.0" stroke="#000" stroke-width="0.7"/>
<line x1="630.1" y1="118.5" x2="632.1" y2="118.5" stroke="#000" stroke-width="0.7"/>
<line x1="630.1" y1="121.3" x2="632.1" y2="121.3" stroke="#000" stroke-width="0.7"/>
<line x1="630.1" y1="124.0" x2="632.1" y2="124.0" stroke="#000" stroke-width="0.7"/>
<line x1="630.1" y1="129.5" x2="632.1" y2="129.5" stroke="#000" stroke-width="0.7"/>
<line x1="630.1" y1="132.1" x2="632.1" y2="132.1" stroke="#000" stroke-width="0.7"/>
<line x1="630.1" y1="134.8" x2="632.1" y2="134.8" stroke="#000" stroke-width="0.7"/>
<line x1="630.1" y1="137.4" x2="632.1" y2="137.4" stroke="#000" stroke-width="0.7"/>
<line x1="630.1" y1="142.9" x2="632.1" y2="142.9" stroke="#000" stroke-width="0.7"/>
<line x1="630.1" y1="145.6" x2="632.1" y2="145.6" stroke="#000" stroke-width="0.7"/>
<line x1="630.1" y1="148.4" x2="632.1" y2="148.4" stroke="#000" stroke-width="0.7"/>
<line x1="630.1" y1="151.2" x2="632.1" y2="151.2" stroke="#000" stroke-width="0.7"/>
<line x1="630.1" y1="153.9" x2="632.1" y2="153.9" stroke="#000" stroke-width="0.7"/>
<line x1="630.1" y1="159.6" x2="632.1" y2="159.6" stroke="#000" stroke-width="0.7"/>
<line x1="630.1" y1="162.4" x2="632.1" y2="162.4" stroke="#000" stroke-width="0.7"/>
<line x1="630.1" y1="165.3" x2="632.1" y2="165.3" stroke="#000" stroke-width="0.7"/>
<line x1="630.1" y1="168.1" x2="632.1" y2="168.1" stroke="#000" stroke-width="0.7"/>
<line x1="630.1" y1="171.0" x2="632.1" y2="171.0" stroke="#000" stroke-width="0.7"/>
<line x1="630.1" y1="173.9" x2="632.1" y2="173.9" stroke="#000" stroke-width="0.7"/>
<line x1="630.1" y1="176.7" x2="632.1" y2="176.7" stroke="#000" stroke-width="0.7"/>
<line x1="630.1" y1="183.3" x2="632.1" y2="183.3" stroke="#000" stroke-width="0.7"/>
<line x1="630.1" y1="190.6" x2="632.1" y2="190.6" stroke="#000" stroke-width="0.7"/>
<line x1="630.1" y1="196.9" x2="632.1" y2="196.9" stroke="#000" stroke-width="0.7"/>
<line x1="630.1" y1="199.6" x2="632.1" y2="199.6" stroke="#000" stroke-width="0.7"/>
<line x1="630.1" y1="205.3" x2="632.1" y2="205.3" stroke="#000" stroke-width="0.7"/>
<line x1="630.1" y1="208.1" x2="632.1" y2="208.1" stroke="#000" stroke-width="0.7"/>
<line x1="630.1" y1="214.4" x2="632.1" y2="214.4" stroke="#000" stroke-width="0.7"/>
<line x1="630.1" y1="217.7" x2="632.1" y2="217.7" stroke="#000" stroke-width="0.7"/>
<line x1="630.1" y1="224.0" x2="632.1" y2="224.0" stroke="#000" stroke-width="0.7"/>
<line x1="630.1" y1="226.8" x2="632.1" y2="226.8" stroke="#000" stroke-width="0.7"/>
<line x1="630.1" y1="229.7" x2="632.1" y2="229.7" stroke="#000" stroke-width="0.7"/>
<line x1="630.1" y1="232.5" x2="632.1" y2="232.5" stroke="#000" stroke-width="0.7"/>
<line x1="630.1" y1="239.2" x2="632.1" y2="239.2" stroke="#000" stroke-width="0.7"/>
<line x1="630.1" y1="246.4" x2="632.1" y2="246.4" stroke="#000" stroke-width="0.7"/>
<line x1="630.1" y1="249.9" x2="632.1" y2="249.9" stroke="#000" stroke-width="0.7"/>
<line x1="630.1" y1="256.2" x2="632.1" y2="256.2" stroke="#000" stroke-width="0.7"/>
<line x1="630.1" y1="259.1" x2="632.1" y2="259.1" stroke="#000" stroke-width="0.7"/>
<line x1="630.1" y1="261.9" x2="632.1" y2="261.9" stroke="#000" stroke-width="0.7"/>
<line x1="630.1" y1="264.8" x2="632.1" y2="264.8" stroke="#000" stroke-width="0.7"/>
<line x1="630.1" y1="267.7" x2="632.1" y2="267.7" stroke="#000" stroke-width="0.7"/>
<line x1="630.1" y1="270.6" x2="632.1" y2="270.6" stroke="#000" stroke-width="0.7"/>
<line x1="630.1" y1="273.4" x2="632.1" y2="273.4" stroke="#000" stroke-width="0.7"/>
<line x1="630.1" y1="278.9" x2="632.1" y2="278.9" stroke="#000" stroke-width="0.7"/>
<line x1="630.1" y1="281.6" x2="632.1" y2="281.6" stroke="#000" stroke-width="0.7"/>
<line x1="630.1" y1="284.2" x2="632.1" y2="284.2" stroke="#000" stroke-width="0.7"/>
<line x1="630.1" y1="286.8" x2="632.1" y2="286.8" stroke="#000" stroke-width="0.7"/>
<line x1="630.1" y1="289.5" x2="632.1" y2="289.5" stroke="#000" stroke-width="0.7"/>
<line x1="630.1" y1="292.1" x2="632.1" y2="292.1" stroke="#000" stroke-width="0.7"/>
<line x1="630.1" y1="294.7" x2="632.1" y2="294.7" stroke="#000" stroke-width="0.7"/>
<line x1="630.1" y1="297.4" x2="632.1" y2="297.4" stroke="#000" stroke-width="0.7"/>
<line x1="630.1" y1="300.0" x2="632.1" y2="300.0" stroke="#000" stroke-width="0.7"/>
<line x1="630.1" y1="302.6" x2="632.1" y2="302.6" stroke="#000" stroke-width="0.7"/>
<line x1="630.1" y1="305.2" x2="632.1" y2="305.2" stroke="#000" stroke-width="0.7"/>
<line x1="630.1" y1="307.9" x2="632.1" y2="307.9" stroke="#000" stroke-width="0.7"/>
<line x1="630.1" y1="310.5" x2="632.1" y2="310.5" stroke="#000" stroke-width="0.7"/>
<line x1="630.1" y1="313.1" x2="632.1" y2="313.1" stroke="#000" stroke-width="0.7"/>
<line x1="630.1" y1="315.8" x2="632.1" y2="315.8" stroke="#000" stroke-width="0.7"/>
<line x1="630.1" y1="321.4" x2="632.1" y2="321.4" stroke="#000" stroke-width="0.7"/>
<line x1="630.1" y1="327.8" x2="632.1" y2="327.8" stroke="#000" stroke-width="0.7"/>
<line x1="630.1" y1="333.8" x2="632.1" y2="333.8" stroke="#000" stroke-width="0.7"/>
<line x1="630.1" y1="336.4" x2="632.1" y2="336.4" stroke="#000" stroke-width="0.7"/>
<line x1="630.1" y1="341.9" x2="632.1" y2="341.9" stroke="#000" stroke-width="0.7"/>
<line x1="630.1" y1="344.9" x2="632.1" y2="344.9" stroke="#000" stroke-width="0.7"/>
<line x1="630.1" y1="350.5" x2="632.1" y2="350.5" stroke="#000" stroke-width="0.7"/>
<line x1="630.1" y1="353.2" x2="632.1" y2="353.2" stroke="#000" stroke-width="0.7"/>
<line x1="630.1" y1="355.9" x2="632.1" y2="355.9" stroke="#000" stroke-width="0.7"/>
<line x1="630.1" y1="361.8" x2="632.1" y2="361.8" stroke="#000" stroke-width="0.7"/>
<line x1="630.1" y1="365.0" x2="632.1" y2="365.0" stroke="#000" stroke-width="0.7"/>
<line x1="630.1" y1="368.2" x2="632.1" y2="368.2" stroke="#000" stroke-width="0.7"/>
<line x1="630.1" y1="374.1" x2="632.1" y2="374.1" stroke="#000" stroke-width="0.7"/>
<line x1="630.1" y1="376.7" x2="632.1" y2="376.7" stroke="#000" stroke-width="0.7"/>
<line x1="630.1" y1="379.4" x2="632.1" y2="379.4" stroke="#000" stroke-width="0.7"/>
<line x1="630.1" y1="382.0" x2="632.1" y2="382.0" stroke="#000" stroke-width="0.7"/>
<line x1="630.1" y1="384.7" x2="632.1" y2="384.7" stroke="#000" stroke-width="0.7"/>
<line x1="630.1" y1="387.3" x2="632.1" y2="387.3" stroke="#000" stroke-width="0.7"/>
<line x1="630.1" y1="392.8" x2="632.1" y2="392.8" stroke="#000" stroke-width="0.7"/>
<line x1="630.1" y1="395.6" x2="632.1" y2="395.6" stroke="#000" stroke-width="0.7"/>
<line x1="630.1" y1="398.4" x2="632.1" y2="398.4" stroke="#000" stroke-width="0.7"/>
<line x1="630.1" y1="401.2" x2="632.1" y2="401.2" stroke="#000" stroke-width="0.7"/>
<line x1="630.1" y1="404.1" x2="632.1" y2="404.1" stroke="#000" stroke-width="0.7"/>
<line x1="630.1" y1="406.9" x2="632.1" y2="406.9" stroke="#000" stroke-width="0.7"/>
<line x1="630.1" y1="409.7" x2="632.1" y2="409.7" stroke="#000" stroke-width="0.7"/>
<line x1="630.1" y1="415.2" x2="632.1" y2="415.2" stroke="#000" stroke-width="0.7"/>
<line x1="630.1" y1="417.9" x2="632.1" y2="417.9" stroke="#000" stroke-width="0.7"/>
<line x1="630.1" y1="420.5" x2="632.1" y2="420.5" stroke="#000" stroke-width="0.7"/>
<line x1="630.1" y1="423.2" x2="632.1" y2="423.2" stroke="#000" stroke-width="0.7"/>
<line x1="630.1" y1="425.9" x2="632.1" y2="425.9" stroke="#000" stroke-width="0.7"/>
<line x1="630.1" y1="428.6" x2="632.1" y2="428.6" stroke="#000" stroke-width="0.7"/>
<line x1="630.1" y1="431.3" x2="632.1" y2="431.3" stroke="#000" stroke-width="0.7"/>
<line x1="630.1" y1="433.9" x2="632.1" y2="433.9" stroke="#000" stroke-width="0.7"/>
<line x1="630.1" y1="436.6" x2="632.1" y2="436.6" stroke="#000" stroke-width="0.7"/>
<line x1="630.1" y1="439.3" x2="632.1" y2="439.3" stroke="#000" stroke-width="0.7"/>
<line x1="630.1" y1="442.0" x2="632.1" y2="442.0" stroke="#000" stroke-width="0.7"/>
<line x1="630.1" y1="444.7" x2="632.1" y2="444.7" stroke="#000" stroke-width="0.7"/>
<line x1="630.1" y1="447.3" x2="632.1" y2="447.3" stroke="#000" stroke-width="0.7"/>
<line x1="630.1" y1="450.0" x2="632.1" y2="450.0" stroke="#000" stroke-width="0.7"/>
<text transform="translate(613,312.5) rotate(-90)" font-size="3.8" textLength="70" lengthAdjust="spacingAndGlyphs" fill="#333" class="tb">лоп гр дол-ьеооле в мьлн пол</text>
<text transform="translate(621.4,291) rotate(-90)" font-size="3.2" textLength="48" lengthAdjust="spacingAndGlyphs" fill="#555" class="tb">Длительность маневра</text></g></g>
<polygon points="58.0,1006.2 63.5,1029.1 75.8,1009.0 73.9,1032.5 91.8,1017.2 82.7,1039.0 104.5,1029.9 89.2,1047.8 112.7,1045.9 92.6,1058.2 115.5,1063.7 92.6,1069.2 112.7,1081.5 89.2,1079.6 104.5,1097.5 82.7,1088.4 91.8,1110.2 73.9,1094.9 75.8,1118.4 63.5,1098.3 58.0,1121.2 52.5,1098.3 40.2,1118.4 42.1,1094.9 24.2,1110.2 33.3,1088.4 11.5,1097.5 26.8,1079.6 3.3,1081.5 23.4,1069.2 0.5,1063.7 23.4,1058.2 3.3,1045.9 26.8,1047.8 11.5,1029.9 33.3,1039.0 24.2,1017.2 42.1,1032.5 40.2,1009.0 52.5,1029.1" fill="#66abd0"/>
<path d="M27.0,1063.7 A31,31 0 0 1 89.0,1063.7 Z" fill="#fff"/>
<defs><clipPath id="bot"><rect x="100" y="1063.5" width="700" height="60"/></clipPath><clipPath id="top"><rect x="100" y="1000" width="700" height="63.5"/></clipPath></defs>
<g clip-path="url(#top)" font-family="Liberation Serif" font-weight="bold" font-size="84" stroke-linejoin="round"><g fill="#66abd0" stroke="#66abd0" stroke-width="6.5"><text transform="translate(124.99,1090.8) scale(0.9980,1)">S</text></g><g fill="#fff" stroke="#fff" stroke-width="3"><text transform="translate(124.99,1090.8) scale(0.9980,1)">S</text></g><g fill="#66abd0" stroke="#66abd0" stroke-width="6.5"><text transform="translate(174.14,1090.8) scale(0.8432,1)">E</text></g><g fill="#fff" stroke="#fff" stroke-width="3"><text transform="translate(174.14,1090.8) scale(0.8432,1)">E</text></g><g fill="#66abd0" stroke="#66abd0" stroke-width="6.5"><text transform="translate(204.86,1090.8) scale(1.0806,1)">A</text></g><g fill="#fff" stroke="#fff" stroke-width="3"><text transform="translate(204.86,1090.8) scale(1.0806,1)">A</text></g><g fill="#66abd0" stroke="#66abd0" stroke-width="6.5"><text transform="translate(272.86,1090.8) scale(0.7559,1)">T</text></g><g fill="#fff" stroke="#fff" stroke-width="3"><text transform="translate(272.86,1090.8) scale(0.7559,1)">T</text></g><g fill="#66abd0" stroke="#66abd0" stroke-width="6.5"><text transform="translate(321.32,1090.8) scale(0.7905,1)">R</text></g><g fill="#fff" stroke="#fff" stroke-width="3"><text transform="translate(321.32,1090.8) scale(0.7905,1)">R</text></g><g fill="#66abd0" stroke="#66abd0" stroke-width="6.5"><text transform="translate(364.40,1090.8) scale(1.0384,1)">A</text></g><g fill="#fff" stroke="#fff" stroke-width="3"><text transform="translate(364.40,1090.8) scale(1.0384,1)">A</text></g><g fill="#66abd0" stroke="#66abd0" stroke-width="6.5"><text transform="translate(427.91,1090.8) scale(0.8134,1)">C</text></g><g fill="#fff" stroke="#fff" stroke-width="3"><text transform="translate(427.91,1090.8) scale(0.8134,1)">C</text></g><g fill="#66abd0" stroke="#66abd0" stroke-width="6.5"><text transform="translate(479.04,1090.8) scale(0.8459,1)">K</text></g><g fill="#fff" stroke="#fff" stroke-width="3"><text transform="translate(479.04,1090.8) scale(0.8459,1)">K</text></g><g fill="#66abd0" stroke="#66abd0" stroke-width="6.5"><text transform="translate(539.33,1090.8) scale(0.7835,1)">E</text></g><g fill="#fff" stroke="#fff" stroke-width="3"><text transform="translate(539.33,1090.8) scale(0.7835,1)">E</text></g><g fill="#66abd0" stroke="#66abd0" stroke-width="6.5"><text transform="translate(585.57,1090.8) scale(0.8939,1)">R</text></g><g fill="#fff" stroke="#fff" stroke-width="3"><text transform="translate(585.57,1090.8) scale(0.8939,1)">R</text></g><g fill="#66abd0" stroke="#66abd0" stroke-width="6.5"><text transform="translate(643.48,1090.8) scale(0.9400,1)">.</text></g><g fill="#fff" stroke="#fff" stroke-width="3"><text transform="translate(643.48,1090.8) scale(0.9400,1)">.</text></g><g fill="#66abd0" stroke="#66abd0" stroke-width="6.5"><text transform="translate(668.53,1090.8) scale(0.8505,1)">R</text></g><g fill="#fff" stroke="#fff" stroke-width="3"><text transform="translate(668.53,1090.8) scale(0.8505,1)">R</text></g><g fill="#66abd0" stroke="#66abd0" stroke-width="6.5"><text transform="translate(725.46,1090.8) scale(0.8552,1)">U</text></g><g fill="#fff" stroke="#fff" stroke-width="3"><text transform="translate(725.46,1090.8) scale(0.8552,1)">U</text></g></g>
<g clip-path="url(#bot)" font-family="Liberation Serif" font-weight="bold" font-size="84" stroke-linejoin="round" fill="#66abd0" stroke="#66abd0" stroke-width="6.5"><text transform="translate(124.99,1090.8) scale(0.9980,1)">S</text><text transform="translate(174.14,1090.8) scale(0.8432,1)">E</text><text transform="translate(204.86,1090.8) scale(1.0806,1)">A</text><text transform="translate(272.86,1090.8) scale(0.7559,1)">T</text><text transform="translate(321.32,1090.8) scale(0.7905,1)">R</text><text transform="translate(364.40,1090.8) scale(1.0384,1)">A</text><text transform="translate(427.91,1090.8) scale(0.8134,1)">C</text><text transform="translate(479.04,1090.8) scale(0.8459,1)">K</text><text transform="translate(539.33,1090.8) scale(0.7835,1)">E</text><text transform="translate(585.57,1090.8) scale(0.8939,1)">R</text><text transform="translate(643.48,1090.8) scale(0.9400,1)">.</text><text transform="translate(668.53,1090.8) scale(0.8505,1)">R</text><text transform="translate(725.46,1090.8) scale(0.8552,1)">U</text></g>
</svg>
<div class="p" style="top:475px"><span class="n">11.</span><a>прокладываются ОЛОДы к заданной дистанции расхождения (в примере</a><br><span class="l2"><a><b>Д<span style="font-size:10.5px;vertical-align:-1px;line-height:0">кр</span></b>=2мили)</a></span></div>
<div class="p" style="top:931px"><span class="n">12.</span><a>ОЛОДы параллельно сносятся в последние точки соответствующих "скоростных</a><br><span class="l2"><a>треугольников"&nbsp;</a></span></div>
</body></html>
